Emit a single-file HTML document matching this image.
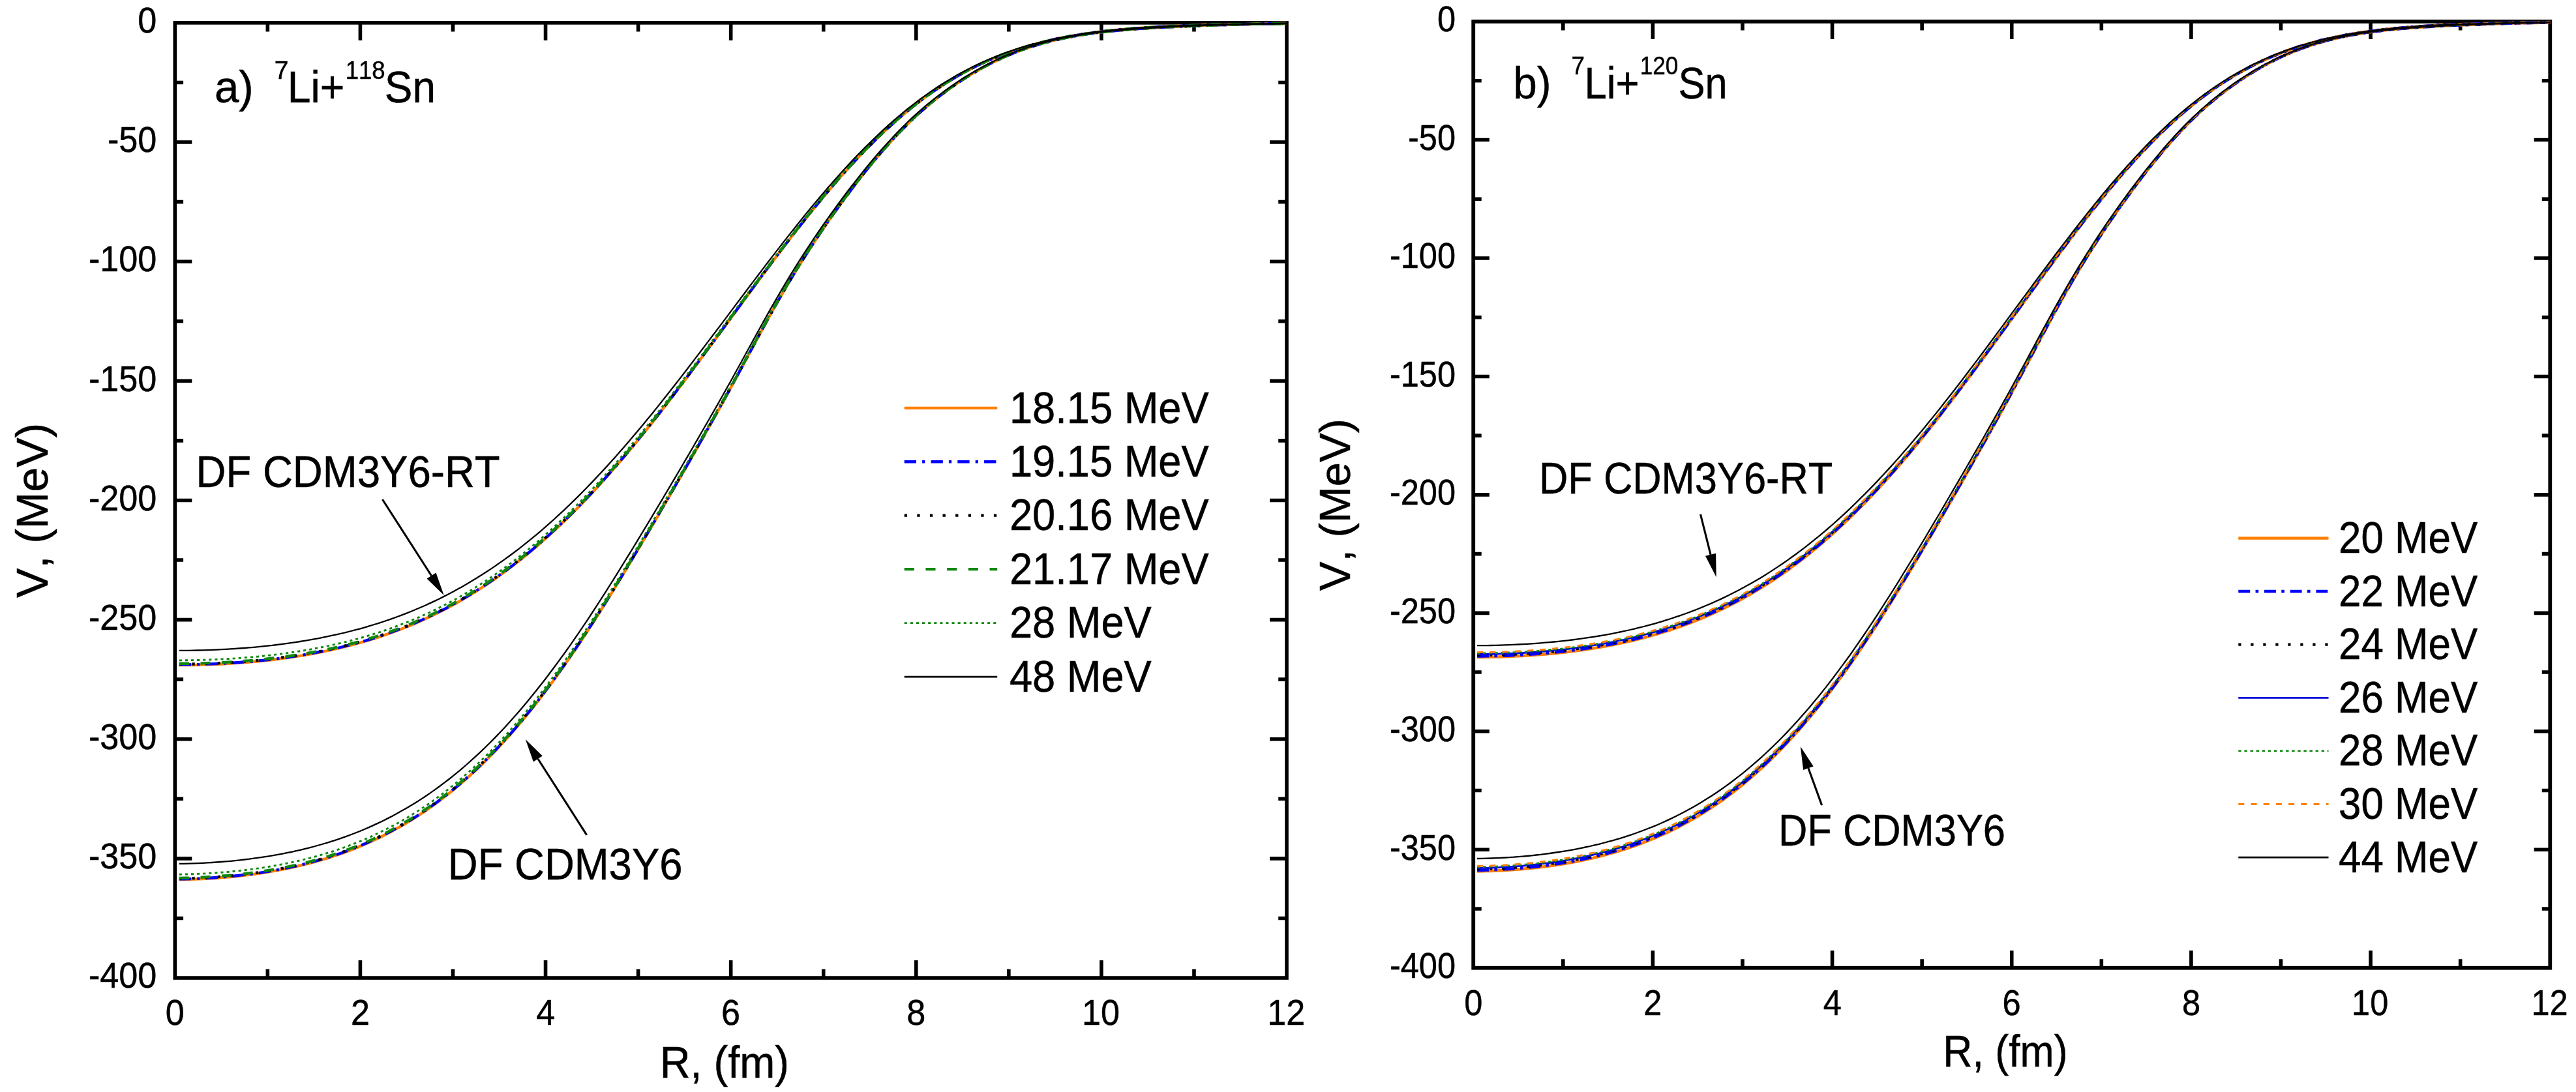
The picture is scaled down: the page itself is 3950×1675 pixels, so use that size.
<!DOCTYPE html>
<html lang="en"><head><meta charset="utf-8"><title>Double-folding potentials 7Li+118Sn, 7Li+120Sn</title>
<style>
html,body{margin:0;padding:0;background:#fff;}
body{width:3950px;height:1675px;overflow:hidden;}
svg{display:block;will-change:transform;}
text{font-family:"Liberation Sans",Arial,Helvetica,sans-serif;fill:#000;stroke:#000;stroke-width:0.5px;font-kerning:none;white-space:pre;}
</style></head><body>
<svg width="3950" height="1675" viewBox="0 0 3950 1675">
<rect width="3950" height="1675" fill="#fff"/>
<g id="pa">
<rect x="268.30" y="34.90" width="1704.72" height="1465.12" fill="none" stroke="#000" stroke-width="5.6"/>
<path d="M410.36,1500.02v-13.6M410.36,34.90v13.6M552.42,1500.02v-27M552.42,34.90v27M694.48,1500.02v-13.6M694.48,34.90v13.6M836.54,1500.02v-27M836.54,34.90v27M978.60,1500.02v-13.6M978.60,34.90v13.6M1120.66,1500.02v-27M1120.66,34.90v27M1262.72,1500.02v-13.6M1262.72,34.90v13.6M1404.78,1500.02v-27M1404.78,34.90v27M1546.84,1500.02v-13.6M1546.84,34.90v13.6M1688.90,1500.02v-27M1688.90,34.90v27M1830.96,1500.02v-13.6M1830.96,34.90v13.6M268.30,126.47h12.8M1973.02,126.47h-12.8M268.30,218.04h26M1973.02,218.04h-26M268.30,309.61h12.8M1973.02,309.61h-12.8M268.30,401.18h26M1973.02,401.18h-26M268.30,492.75h12.8M1973.02,492.75h-12.8M268.30,584.32h26M1973.02,584.32h-26M268.30,675.89h12.8M1973.02,675.89h-12.8M268.30,767.46h26M1973.02,767.46h-26M268.30,859.03h12.8M1973.02,859.03h-12.8M268.30,950.60h26M1973.02,950.60h-26M268.30,1042.17h12.8M1973.02,1042.17h-12.8M268.30,1133.74h26M1973.02,1133.74h-26M268.30,1225.31h12.8M1973.02,1225.31h-12.8M268.30,1316.88h26M1973.02,1316.88h-26M268.30,1408.45h12.8M1973.02,1408.45h-12.8" stroke="#000" stroke-width="5.6" fill="none"/>
<path d="M274.8,1020.2 L282.5,1020.2 L289.6,1020.1 L296.7,1020.0 L303.8,1019.8 L310.9,1019.6 L318.0,1019.4 L325.1,1019.1 L332.2,1018.8 L339.3,1018.5 L346.4,1018.1 L353.5,1017.7 L360.6,1017.2 L367.7,1016.7 L374.8,1016.2 L381.9,1015.6 L389.1,1014.9 L396.2,1014.3 L403.3,1013.5 L410.4,1012.8 L417.5,1012.0 L424.6,1011.1 L431.7,1010.2 L438.8,1009.2 L445.9,1008.2 L453.0,1007.1 L460.1,1006.0 L467.2,1004.8 L474.3,1003.6 L481.4,1002.3 L488.5,1000.9 L495.6,999.5 L502.7,998.0 L509.8,996.5 L516.9,994.9 L524.0,993.2 L531.1,991.5 L538.2,989.6 L545.3,987.7 L552.4,985.8 L559.5,983.7 L566.6,981.6 L573.7,979.4 L580.8,977.1 L587.9,974.7 L595.0,972.3 L602.1,969.7 L609.2,967.1 L616.3,964.4 L623.5,961.6 L630.6,958.7 L637.7,955.7 L644.8,952.5 L651.9,949.3 L659.0,946.0 L666.1,942.6 L673.2,939.1 L680.3,935.5 L687.4,931.8 L694.5,927.9 L701.6,924.0 L708.7,919.9 L715.8,915.7 L722.9,911.4 L730.0,907.0 L737.1,902.5 L744.2,897.8 L751.3,893.1 L758.4,888.2 L765.5,883.1 L772.6,878.0 L779.7,872.7 L786.8,867.3 L793.9,861.8 L801.0,856.2 L808.1,850.4 L815.2,844.5 L822.3,838.5 L829.4,832.3 L836.5,826.0 L843.6,819.6 L850.7,813.1 L857.8,806.4 L865.0,799.6 L872.1,792.7 L879.2,785.6 L886.3,778.5 L893.4,771.2 L900.5,763.8 L907.6,756.2 L914.7,748.6 L921.8,740.8 L928.9,732.9 L936.0,724.9 L943.1,716.8 L950.2,708.6 L957.3,700.3 L964.4,691.8 L971.5,683.3 L978.6,674.7 L985.7,666.0 L992.8,657.2 L999.9,648.3 L1007.0,639.3 L1014.1,630.2 L1021.2,621.1 L1028.3,611.9 L1035.4,602.6 L1042.5,593.3 L1049.6,583.9 L1056.7,574.4 L1063.8,564.9 L1070.9,555.4 L1078.0,545.8 L1085.1,536.2 L1092.2,526.6 L1099.4,516.9 L1106.5,507.2 L1113.6,497.6 L1120.7,487.9 L1127.8,478.2 L1134.9,468.5 L1142.0,458.8 L1149.1,449.2 L1156.2,439.5 L1163.3,429.9 L1170.4,420.4 L1177.5,410.8 L1184.6,401.4 L1191.7,391.9 L1198.8,382.6 L1205.9,373.3 L1213.0,364.0 L1220.1,354.9 L1227.2,345.8 L1234.3,336.8 L1241.4,328.0 L1248.5,319.2 L1255.6,310.5 L1262.7,301.9 L1269.8,293.5 L1276.9,285.1 L1284.0,276.9 L1291.1,268.8 L1298.2,260.9 L1305.3,253.1 L1312.4,245.4 L1319.5,237.8 L1326.6,230.5 L1333.8,223.2 L1340.9,216.2 L1348.0,209.2 L1355.1,202.5 L1362.2,195.9 L1369.3,189.4 L1376.4,183.1 L1383.5,177.0 L1390.6,171.1 L1397.7,165.3 L1404.8,159.7 L1411.9,154.2 L1419.0,148.9 L1426.1,143.8 L1433.2,138.9 L1440.3,134.1 L1447.4,129.4 L1454.5,125.0 L1461.6,120.6 L1468.7,116.5 L1475.8,112.5 L1482.9,108.6 L1490.0,104.9 L1497.1,101.4 L1504.2,98.0 L1511.3,94.7 L1518.4,91.6 L1525.5,88.6 L1532.6,85.7 L1539.7,83.0 L1546.8,80.3 L1553.9,77.8 L1561.0,75.5 L1568.1,73.2 L1575.3,71.0 L1582.4,69.0 L1589.5,67.0 L1596.6,65.2 L1603.7,63.4 L1610.8,61.8 L1617.9,60.2 L1625.0,58.7 L1632.1,57.3 L1639.2,55.9 L1646.3,54.7 L1653.4,53.5 L1660.5,52.4 L1667.6,51.3 L1674.7,50.3 L1681.8,49.4 L1688.9,48.5 L1696.0,47.7 L1703.1,46.9 L1710.2,46.1 L1717.3,45.4 L1724.4,44.8 L1731.5,44.2 L1738.6,43.6 L1745.7,43.1 L1752.8,42.6 L1759.9,42.1 L1767.0,41.7 L1774.1,41.3 L1781.2,40.9 L1788.3,40.5 L1795.4,40.2 L1802.5,39.9 L1809.7,39.6 L1816.8,39.3 L1823.9,39.1 L1831.0,38.8 L1838.1,38.6 L1845.2,38.4 L1852.3,38.2 L1859.4,38.0 L1866.5,37.8 L1873.6,37.7 L1880.7,37.5 L1887.8,37.4 L1894.9,37.3 L1902.0,37.2 L1909.1,37.1 L1916.2,37.0 L1923.3,36.9 L1930.4,36.8 L1937.5,36.7 L1944.6,36.6 L1951.7,36.6 L1958.8,36.5 L1965.9,36.4 L1973.0,36.4" fill="none" stroke="#ff7f00" stroke-width="4.3"/>
<path d="M274.8,1349.2 L282.5,1349.1 L289.6,1348.9 L296.7,1348.7 L303.8,1348.4 L310.9,1348.1 L318.0,1347.7 L325.1,1347.3 L332.2,1346.8 L339.3,1346.2 L346.4,1345.6 L353.5,1345.0 L360.6,1344.3 L367.7,1343.5 L374.8,1342.7 L381.9,1341.8 L389.1,1340.9 L396.2,1339.9 L403.3,1338.8 L410.4,1337.7 L417.5,1336.5 L424.6,1335.2 L431.7,1333.9 L438.8,1332.4 L445.9,1330.9 L453.0,1329.4 L460.1,1327.7 L467.2,1326.0 L474.3,1324.2 L481.4,1322.3 L488.5,1320.3 L495.6,1318.2 L502.7,1316.1 L509.8,1313.8 L516.9,1311.4 L524.0,1309.0 L531.1,1306.4 L538.2,1303.7 L545.3,1300.9 L552.4,1298.0 L559.5,1295.0 L566.6,1291.9 L573.7,1288.6 L580.8,1285.2 L587.9,1281.7 L595.0,1278.1 L602.1,1274.3 L609.2,1270.4 L616.3,1266.4 L623.5,1262.2 L630.6,1257.9 L637.7,1253.4 L644.8,1248.8 L651.9,1244.1 L659.0,1239.1 L666.1,1234.1 L673.2,1228.8 L680.3,1223.4 L687.4,1217.9 L694.5,1212.1 L701.6,1206.2 L708.7,1200.2 L715.8,1193.9 L722.9,1187.5 L730.0,1180.9 L737.1,1174.1 L744.2,1167.2 L751.3,1160.0 L758.4,1152.7 L765.5,1145.2 L772.6,1137.6 L779.7,1129.7 L786.8,1121.6 L793.9,1113.4 L801.0,1105.0 L808.1,1096.4 L815.2,1087.6 L822.3,1078.6 L829.4,1069.4 L836.5,1060.1 L843.6,1050.6 L850.7,1040.9 L857.8,1031.1 L865.0,1021.0 L872.1,1010.8 L879.2,1000.5 L886.3,990.0 L893.4,979.3 L900.5,968.5 L907.6,957.6 L914.7,946.5 L921.8,935.3 L928.9,924.0 L936.0,912.6 L943.1,901.1 L950.2,889.5 L957.3,877.8 L964.4,866.1 L971.5,854.2 L978.6,842.4 L985.7,830.4 L992.8,818.4 L999.9,806.4 L1007.0,794.3 L1014.1,782.1 L1021.2,770.0 L1028.3,757.8 L1035.4,745.5 L1042.5,733.2 L1049.6,720.9 L1056.7,708.5 L1063.8,696.1 L1070.9,683.6 L1078.0,671.1 L1085.1,658.5 L1092.2,645.9 L1099.4,633.2 L1106.5,620.4 L1113.6,607.5 L1120.7,594.5 L1127.8,581.5 L1134.9,568.3 L1142.0,555.1 L1149.1,541.9 L1156.2,528.7 L1163.3,515.6 L1170.4,502.5 L1177.5,489.5 L1184.6,476.8 L1191.7,464.2 L1198.8,451.8 L1205.9,439.6 L1213.0,427.7 L1220.1,416.0 L1227.2,404.5 L1234.3,393.2 L1241.4,382.2 L1248.5,371.3 L1255.6,360.7 L1262.7,350.2 L1269.8,339.9 L1276.9,329.8 L1284.0,319.9 L1291.1,310.1 L1298.2,300.4 L1305.3,291.0 L1312.4,281.6 L1319.5,272.5 L1326.6,263.5 L1333.8,254.7 L1340.9,246.0 L1348.0,237.6 L1355.1,229.3 L1362.2,221.3 L1369.3,213.5 L1376.4,205.9 L1383.5,198.5 L1390.6,191.4 L1397.7,184.5 L1404.8,177.8 L1411.9,171.3 L1419.0,165.1 L1426.1,159.1 L1433.2,153.3 L1440.3,147.7 L1447.4,142.3 L1454.5,137.1 L1461.6,132.0 L1468.7,127.1 L1475.8,122.4 L1482.9,117.9 L1490.0,113.5 L1497.1,109.3 L1504.2,105.3 L1511.3,101.4 L1518.4,97.7 L1525.5,94.2 L1532.6,90.8 L1539.7,87.5 L1546.8,84.5 L1553.9,81.6 L1561.0,78.8 L1568.1,76.2 L1575.3,73.7 L1582.4,71.3 L1589.5,69.1 L1596.6,67.0 L1603.7,65.1 L1610.8,63.2 L1617.9,61.5 L1625.0,59.9 L1632.1,58.4 L1639.2,57.0 L1646.3,55.6 L1653.4,54.4 L1660.5,53.2 L1667.6,52.2 L1674.7,51.2 L1681.8,50.2 L1688.9,49.3 L1696.0,48.5 L1703.1,47.8 L1710.2,47.1 L1717.3,46.4 L1724.4,45.8 L1731.5,45.2 L1738.6,44.6 L1745.7,44.1 L1752.8,43.6 L1759.9,43.2 L1767.0,42.8 L1774.1,42.4 L1781.2,42.0 L1788.3,41.6 L1795.4,41.3 L1802.5,40.9 L1809.7,40.6 L1816.8,40.3 L1823.9,40.0 L1831.0,39.7 L1838.1,39.5 L1845.2,39.2 L1852.3,38.9 L1859.4,38.7 L1866.5,38.4 L1873.6,38.2 L1880.7,38.0 L1887.8,37.7 L1894.9,37.5 L1902.0,37.3 L1909.1,37.1 L1916.2,36.9 L1923.3,36.7 L1930.4,36.5 L1937.5,36.3 L1944.6,36.2 L1951.7,36.0 L1958.8,35.8 L1965.9,35.7 L1973.0,35.6" fill="none" stroke="#ff7f00" stroke-width="4.3"/>
<path d="M274.8,1019.5 L282.5,1019.4 L289.6,1019.3 L296.7,1019.2 L303.8,1019.1 L310.9,1018.9 L318.0,1018.6 L325.1,1018.4 L332.2,1018.1 L339.3,1017.7 L346.4,1017.4 L353.5,1016.9 L360.6,1016.5 L367.7,1016.0 L374.8,1015.4 L381.9,1014.8 L389.1,1014.2 L396.2,1013.5 L403.3,1012.8 L410.4,1012.0 L417.5,1011.2 L424.6,1010.4 L431.7,1009.4 L438.8,1008.5 L445.9,1007.5 L453.0,1006.4 L460.1,1005.3 L467.2,1004.1 L474.3,1002.9 L481.4,1001.6 L488.5,1000.2 L495.6,998.8 L502.7,997.3 L509.8,995.8 L516.9,994.2 L524.0,992.5 L531.1,990.7 L538.2,988.9 L545.3,987.0 L552.4,985.0 L559.5,983.0 L566.6,980.9 L573.7,978.7 L580.8,976.4 L587.9,974.0 L595.0,971.6 L602.1,969.0 L609.2,966.4 L616.3,963.7 L623.5,960.9 L630.6,958.0 L637.7,955.0 L644.8,951.9 L651.9,948.7 L659.0,945.3 L666.1,941.9 L673.2,938.4 L680.3,934.8 L687.4,931.1 L694.5,927.2 L701.6,923.3 L708.7,919.2 L715.8,915.1 L722.9,910.8 L730.0,906.4 L737.1,901.8 L744.2,897.2 L751.3,892.4 L758.4,887.5 L765.5,882.5 L772.6,877.4 L779.7,872.1 L786.8,866.7 L793.9,861.2 L801.0,855.5 L808.1,849.8 L815.2,843.9 L822.3,837.9 L829.4,831.7 L836.5,825.4 L843.6,819.0 L850.7,812.5 L857.8,805.8 L865.0,799.0 L872.1,792.1 L879.2,785.1 L886.3,777.9 L893.4,770.6 L900.5,763.2 L907.6,755.7 L914.7,748.0 L921.8,740.3 L928.9,732.4 L936.0,724.4 L943.1,716.3 L950.2,708.1 L957.3,699.8 L964.4,691.3 L971.5,682.8 L978.6,674.2 L985.7,665.5 L992.8,656.7 L999.9,647.8 L1007.0,638.8 L1014.1,629.8 L1021.2,620.6 L1028.3,611.4 L1035.4,602.2 L1042.5,592.8 L1049.6,583.5 L1056.7,574.0 L1063.8,564.5 L1070.9,555.0 L1078.0,545.4 L1085.1,535.8 L1092.2,526.2 L1099.4,516.6 L1106.5,506.9 L1113.6,497.2 L1120.7,487.5 L1127.8,477.8 L1134.9,468.2 L1142.0,458.5 L1149.1,448.8 L1156.2,439.2 L1163.3,429.6 L1170.4,420.1 L1177.5,410.6 L1184.6,401.1 L1191.7,391.7 L1198.8,382.3 L1205.9,373.0 L1213.0,363.8 L1220.1,354.6 L1227.2,345.6 L1234.3,336.6 L1241.4,327.7 L1248.5,319.0 L1255.6,310.3 L1262.7,301.7 L1269.8,293.3 L1276.9,284.9 L1284.0,276.7 L1291.1,268.6 L1298.2,260.7 L1305.3,252.9 L1312.4,245.2 L1319.5,237.7 L1326.6,230.3 L1333.8,223.1 L1340.9,216.0 L1348.0,209.1 L1355.1,202.3 L1362.2,195.7 L1369.3,189.3 L1376.4,183.0 L1383.5,176.9 L1390.6,171.0 L1397.7,165.2 L1404.8,159.6 L1411.9,154.1 L1419.0,148.9 L1426.1,143.7 L1433.2,138.8 L1440.3,134.0 L1447.4,129.4 L1454.5,124.9 L1461.6,120.6 L1468.7,116.4 L1475.8,112.4 L1482.9,108.6 L1490.0,104.9 L1497.1,101.3 L1504.2,97.9 L1511.3,94.7 L1518.4,91.5 L1525.5,88.5 L1532.6,85.7 L1539.7,82.9 L1546.8,80.3 L1553.9,77.8 L1561.0,75.4 L1568.1,73.2 L1575.3,71.0 L1582.4,69.0 L1589.5,67.0 L1596.6,65.2 L1603.7,63.4 L1610.8,61.7 L1617.9,60.2 L1625.0,58.7 L1632.1,57.3 L1639.2,55.9 L1646.3,54.7 L1653.4,53.5 L1660.5,52.4 L1667.6,51.3 L1674.7,50.3 L1681.8,49.4 L1688.9,48.5 L1696.0,47.6 L1703.1,46.9 L1710.2,46.1 L1717.3,45.4 L1724.4,44.8 L1731.5,44.2 L1738.6,43.6 L1745.7,43.1 L1752.8,42.6 L1759.9,42.1 L1767.0,41.7 L1774.1,41.3 L1781.2,40.9 L1788.3,40.5 L1795.4,40.2 L1802.5,39.9 L1809.7,39.6 L1816.8,39.3 L1823.9,39.1 L1831.0,38.8 L1838.1,38.6 L1845.2,38.4 L1852.3,38.2 L1859.4,38.0 L1866.5,37.8 L1873.6,37.7 L1880.7,37.5 L1887.8,37.4 L1894.9,37.3 L1902.0,37.2 L1909.1,37.1 L1916.2,37.0 L1923.3,36.9 L1930.4,36.8 L1937.5,36.7 L1944.6,36.6 L1951.7,36.6 L1958.8,36.5 L1965.9,36.4 L1973.0,36.4" fill="none" stroke="#0000ff" stroke-width="4.3" stroke-dasharray="18.3 9.1 4.2 9.2"/>
<path d="M274.8,1348.4 L282.5,1348.3 L289.6,1348.1 L296.7,1347.9 L303.8,1347.6 L310.9,1347.3 L318.0,1346.9 L325.1,1346.5 L332.2,1346.0 L339.3,1345.4 L346.4,1344.8 L353.5,1344.2 L360.6,1343.5 L367.7,1342.7 L374.8,1341.9 L381.9,1341.0 L389.1,1340.1 L396.2,1339.1 L403.3,1338.0 L410.4,1336.9 L417.5,1335.7 L424.6,1334.4 L431.7,1333.0 L438.8,1331.6 L445.9,1330.1 L453.0,1328.6 L460.1,1326.9 L467.2,1325.2 L474.3,1323.4 L481.4,1321.5 L488.5,1319.5 L495.6,1317.4 L502.7,1315.3 L509.8,1313.0 L516.9,1310.6 L524.0,1308.2 L531.1,1305.6 L538.2,1302.9 L545.3,1300.1 L552.4,1297.2 L559.5,1294.2 L566.6,1291.1 L573.7,1287.8 L580.8,1284.5 L587.9,1281.0 L595.0,1277.3 L602.1,1273.6 L609.2,1269.7 L616.3,1265.6 L623.5,1261.5 L630.6,1257.2 L637.7,1252.7 L644.8,1248.1 L651.9,1243.3 L659.0,1238.4 L666.1,1233.3 L673.2,1228.1 L680.3,1222.7 L687.4,1217.1 L694.5,1211.4 L701.6,1205.5 L708.7,1199.4 L715.8,1193.2 L722.9,1186.8 L730.0,1180.2 L737.1,1173.4 L744.2,1166.5 L751.3,1159.3 L758.4,1152.0 L765.5,1144.5 L772.6,1136.9 L779.7,1129.0 L786.8,1121.0 L793.9,1112.7 L801.0,1104.3 L808.1,1095.7 L815.2,1086.9 L822.3,1078.0 L829.4,1068.8 L836.5,1059.5 L843.6,1050.0 L850.7,1040.3 L857.8,1030.4 L865.0,1020.4 L872.1,1010.2 L879.2,999.9 L886.3,989.4 L893.4,978.7 L900.5,967.9 L907.6,957.0 L914.7,946.0 L921.8,934.8 L928.9,923.5 L936.0,912.1 L943.1,900.6 L950.2,889.0 L957.3,877.3 L964.4,865.6 L971.5,853.7 L978.6,841.9 L985.7,829.9 L992.8,817.9 L999.9,805.9 L1007.0,793.8 L1014.1,781.7 L1021.2,769.5 L1028.3,757.3 L1035.4,745.1 L1042.5,732.8 L1049.6,720.5 L1056.7,708.1 L1063.8,695.7 L1070.9,683.2 L1078.0,670.7 L1085.1,658.1 L1092.2,645.5 L1099.4,632.8 L1106.5,620.0 L1113.6,607.1 L1120.7,594.2 L1127.8,581.1 L1134.9,568.0 L1142.0,554.8 L1149.1,541.6 L1156.2,528.4 L1163.3,515.3 L1170.4,502.2 L1177.5,489.3 L1184.6,476.5 L1191.7,463.9 L1198.8,451.5 L1205.9,439.4 L1213.0,427.5 L1220.1,415.7 L1227.2,404.3 L1234.3,393.0 L1241.4,382.0 L1248.5,371.1 L1255.6,360.5 L1262.7,350.0 L1269.8,339.7 L1276.9,329.6 L1284.0,319.7 L1291.1,309.9 L1298.2,300.3 L1305.3,290.8 L1312.4,281.5 L1319.5,272.3 L1326.6,263.3 L1333.8,254.5 L1340.9,245.9 L1348.0,237.5 L1355.1,229.2 L1362.2,221.2 L1369.3,213.4 L1376.4,205.8 L1383.5,198.4 L1390.6,191.3 L1397.7,184.4 L1404.8,177.7 L1411.9,171.3 L1419.0,165.0 L1426.1,159.0 L1433.2,153.2 L1440.3,147.6 L1447.4,142.2 L1454.5,137.0 L1461.6,132.0 L1468.7,127.1 L1475.8,122.4 L1482.9,117.9 L1490.0,113.5 L1497.1,109.3 L1504.2,105.3 L1511.3,101.4 L1518.4,97.7 L1525.5,94.1 L1532.6,90.7 L1539.7,87.5 L1546.8,84.4 L1553.9,81.5 L1561.0,78.8 L1568.1,76.1 L1575.3,73.6 L1582.4,71.3 L1589.5,69.1 L1596.6,67.0 L1603.7,65.1 L1610.8,63.2 L1617.9,61.5 L1625.0,59.9 L1632.1,58.4 L1639.2,57.0 L1646.3,55.6 L1653.4,54.4 L1660.5,53.2 L1667.6,52.2 L1674.7,51.2 L1681.8,50.2 L1688.9,49.3 L1696.0,48.5 L1703.1,47.8 L1710.2,47.0 L1717.3,46.4 L1724.4,45.8 L1731.5,45.2 L1738.6,44.6 L1745.7,44.1 L1752.8,43.6 L1759.9,43.2 L1767.0,42.8 L1774.1,42.3 L1781.2,42.0 L1788.3,41.6 L1795.4,41.3 L1802.5,40.9 L1809.7,40.6 L1816.8,40.3 L1823.9,40.0 L1831.0,39.7 L1838.1,39.5 L1845.2,39.2 L1852.3,38.9 L1859.4,38.7 L1866.5,38.4 L1873.6,38.2 L1880.7,38.0 L1887.8,37.7 L1894.9,37.5 L1902.0,37.3 L1909.1,37.1 L1916.2,36.9 L1923.3,36.7 L1930.4,36.5 L1937.5,36.3 L1944.6,36.2 L1951.7,36.0 L1958.8,35.8 L1965.9,35.7 L1973.0,35.6" fill="none" stroke="#0000ff" stroke-width="4.3" stroke-dasharray="18.3 9.1 4.2 9.2"/>
<path d="M274.8,1018.7 L282.5,1018.7 L289.6,1018.6 L296.7,1018.5 L303.8,1018.3 L310.9,1018.1 L318.0,1017.9 L325.1,1017.6 L332.2,1017.3 L339.3,1017.0 L346.4,1016.6 L353.5,1016.2 L360.6,1015.7 L367.7,1015.2 L374.8,1014.7 L381.9,1014.1 L389.1,1013.4 L396.2,1012.8 L403.3,1012.1 L410.4,1011.3 L417.5,1010.5 L424.6,1009.6 L431.7,1008.7 L438.8,1007.7 L445.9,1006.7 L453.0,1005.7 L460.1,1004.5 L467.2,1003.4 L474.3,1002.1 L481.4,1000.8 L488.5,999.5 L495.6,998.1 L502.7,996.6 L509.8,995.0 L516.9,993.4 L524.0,991.7 L531.1,990.0 L538.2,988.2 L545.3,986.3 L552.4,984.3 L559.5,982.3 L566.6,980.2 L573.7,978.0 L580.8,975.7 L587.9,973.3 L595.0,970.9 L602.1,968.3 L609.2,965.7 L616.3,963.0 L623.5,960.2 L630.6,957.3 L637.7,954.3 L644.8,951.2 L651.9,948.0 L659.0,944.7 L666.1,941.2 L673.2,937.7 L680.3,934.1 L687.4,930.4 L694.5,926.6 L701.6,922.6 L708.7,918.6 L715.8,914.4 L722.9,910.1 L730.0,905.7 L737.1,901.2 L744.2,896.5 L751.3,891.7 L758.4,886.9 L765.5,881.9 L772.6,876.7 L779.7,871.5 L786.8,866.1 L793.9,860.6 L801.0,854.9 L808.1,849.2 L815.2,843.3 L822.3,837.2 L829.4,831.1 L836.5,824.8 L843.6,818.4 L850.7,811.9 L857.8,805.2 L865.0,798.4 L872.1,791.5 L879.2,784.5 L886.3,777.3 L893.4,770.1 L900.5,762.6 L907.6,755.1 L914.7,747.5 L921.8,739.7 L928.9,731.8 L936.0,723.9 L943.1,715.8 L950.2,707.6 L957.3,699.2 L964.4,690.8 L971.5,682.3 L978.6,673.7 L985.7,665.0 L992.8,656.2 L999.9,647.3 L1007.0,638.4 L1014.1,629.3 L1021.2,620.2 L1028.3,611.0 L1035.4,601.7 L1042.5,592.4 L1049.6,583.0 L1056.7,573.6 L1063.8,564.1 L1070.9,554.6 L1078.0,545.0 L1085.1,535.5 L1092.2,525.8 L1099.4,516.2 L1106.5,506.5 L1113.6,496.9 L1120.7,487.2 L1127.8,477.5 L1134.9,467.8 L1142.0,458.2 L1149.1,448.5 L1156.2,438.9 L1163.3,429.3 L1170.4,419.8 L1177.5,410.3 L1184.6,400.8 L1191.7,391.4 L1198.8,382.0 L1205.9,372.8 L1213.0,363.5 L1220.1,354.4 L1227.2,345.4 L1234.3,336.4 L1241.4,327.5 L1248.5,318.7 L1255.6,310.1 L1262.7,301.5 L1269.8,293.1 L1276.9,284.7 L1284.0,276.5 L1291.1,268.5 L1298.2,260.5 L1305.3,252.7 L1312.4,245.1 L1319.5,237.5 L1326.6,230.2 L1333.8,222.9 L1340.9,215.9 L1348.0,209.0 L1355.1,202.2 L1362.2,195.6 L1369.3,189.2 L1376.4,182.9 L1383.5,176.8 L1390.6,170.9 L1397.7,165.1 L1404.8,159.5 L1411.9,154.0 L1419.0,148.8 L1426.1,143.7 L1433.2,138.7 L1440.3,133.9 L1447.4,129.3 L1454.5,124.8 L1461.6,120.5 L1468.7,116.4 L1475.8,112.4 L1482.9,108.5 L1490.0,104.8 L1497.1,101.3 L1504.2,97.9 L1511.3,94.6 L1518.4,91.5 L1525.5,88.5 L1532.6,85.6 L1539.7,82.9 L1546.8,80.3 L1553.9,77.8 L1561.0,75.4 L1568.1,73.1 L1575.3,71.0 L1582.4,68.9 L1589.5,67.0 L1596.6,65.1 L1603.7,63.4 L1610.8,61.7 L1617.9,60.1 L1625.0,58.7 L1632.1,57.2 L1639.2,55.9 L1646.3,54.7 L1653.4,53.5 L1660.5,52.3 L1667.6,51.3 L1674.7,50.3 L1681.8,49.3 L1688.9,48.5 L1696.0,47.6 L1703.1,46.9 L1710.2,46.1 L1717.3,45.4 L1724.4,44.8 L1731.5,44.2 L1738.6,43.6 L1745.7,43.1 L1752.8,42.6 L1759.9,42.1 L1767.0,41.7 L1774.1,41.3 L1781.2,40.9 L1788.3,40.5 L1795.4,40.2 L1802.5,39.9 L1809.7,39.6 L1816.8,39.3 L1823.9,39.0 L1831.0,38.8 L1838.1,38.6 L1845.2,38.4 L1852.3,38.2 L1859.4,38.0 L1866.5,37.8 L1873.6,37.7 L1880.7,37.5 L1887.8,37.4 L1894.9,37.3 L1902.0,37.2 L1909.1,37.1 L1916.2,37.0 L1923.3,36.9 L1930.4,36.8 L1937.5,36.7 L1944.6,36.6 L1951.7,36.6 L1958.8,36.5 L1965.9,36.4 L1973.0,36.4" fill="none" stroke="#000" stroke-width="4.3" stroke-dasharray="4.3 15.3"/>
<path d="M274.8,1347.6 L282.5,1347.5 L289.6,1347.3 L296.7,1347.1 L303.8,1346.8 L310.9,1346.5 L318.0,1346.1 L325.1,1345.6 L332.2,1345.2 L339.3,1344.6 L346.4,1344.0 L353.5,1343.4 L360.6,1342.7 L367.7,1341.9 L374.8,1341.1 L381.9,1340.2 L389.1,1339.3 L396.2,1338.3 L403.3,1337.2 L410.4,1336.0 L417.5,1334.8 L424.6,1333.6 L431.7,1332.2 L438.8,1330.8 L445.9,1329.3 L453.0,1327.8 L460.1,1326.1 L467.2,1324.4 L474.3,1322.6 L481.4,1320.7 L488.5,1318.7 L495.6,1316.6 L502.7,1314.5 L509.8,1312.2 L516.9,1309.8 L524.0,1307.4 L531.1,1304.8 L538.2,1302.1 L545.3,1299.3 L552.4,1296.4 L559.5,1293.4 L566.6,1290.3 L573.7,1287.1 L580.8,1283.7 L587.9,1280.2 L595.0,1276.6 L602.1,1272.8 L609.2,1268.9 L616.3,1264.9 L623.5,1260.7 L630.6,1256.4 L637.7,1251.9 L644.8,1247.3 L651.9,1242.6 L659.0,1237.6 L666.1,1232.6 L673.2,1227.3 L680.3,1221.9 L687.4,1216.4 L694.5,1210.7 L701.6,1204.8 L708.7,1198.7 L715.8,1192.5 L722.9,1186.1 L730.0,1179.5 L737.1,1172.7 L744.2,1165.8 L751.3,1158.6 L758.4,1151.3 L765.5,1143.8 L772.6,1136.2 L779.7,1128.3 L786.8,1120.3 L793.9,1112.1 L801.0,1103.6 L808.1,1095.0 L815.2,1086.3 L822.3,1077.3 L829.4,1068.2 L836.5,1058.8 L843.6,1049.3 L850.7,1039.7 L857.8,1029.8 L865.0,1019.8 L872.1,1009.6 L879.2,999.3 L886.3,988.8 L893.4,978.1 L900.5,967.4 L907.6,956.4 L914.7,945.4 L921.8,934.2 L928.9,922.9 L936.0,911.5 L943.1,900.0 L950.2,888.4 L957.3,876.8 L964.4,865.0 L971.5,853.2 L978.6,841.3 L985.7,829.4 L992.8,817.4 L999.9,805.4 L1007.0,793.3 L1014.1,781.2 L1021.2,769.0 L1028.3,756.9 L1035.4,744.6 L1042.5,732.3 L1049.6,720.0 L1056.7,707.7 L1063.8,695.3 L1070.9,682.8 L1078.0,670.3 L1085.1,657.7 L1092.2,645.1 L1099.4,632.4 L1106.5,619.6 L1113.6,606.8 L1120.7,593.8 L1127.8,580.8 L1134.9,567.7 L1142.0,554.5 L1149.1,541.3 L1156.2,528.1 L1163.3,515.0 L1170.4,501.9 L1177.5,489.0 L1184.6,476.2 L1191.7,463.6 L1198.8,451.3 L1205.9,439.1 L1213.0,427.2 L1220.1,415.5 L1227.2,404.0 L1234.3,392.8 L1241.4,381.7 L1248.5,370.9 L1255.6,360.3 L1262.7,349.8 L1269.8,339.5 L1276.9,329.4 L1284.0,319.5 L1291.1,309.7 L1298.2,300.1 L1305.3,290.6 L1312.4,281.3 L1319.5,272.2 L1326.6,263.2 L1333.8,254.4 L1340.9,245.8 L1348.0,237.3 L1355.1,229.1 L1362.2,221.1 L1369.3,213.3 L1376.4,205.7 L1383.5,198.3 L1390.6,191.2 L1397.7,184.3 L1404.8,177.6 L1411.9,171.2 L1419.0,165.0 L1426.1,159.0 L1433.2,153.2 L1440.3,147.6 L1447.4,142.2 L1454.5,136.9 L1461.6,131.9 L1468.7,127.0 L1475.8,122.3 L1482.9,117.8 L1490.0,113.4 L1497.1,109.2 L1504.2,105.2 L1511.3,101.3 L1518.4,97.6 L1525.5,94.1 L1532.6,90.7 L1539.7,87.5 L1546.8,84.4 L1553.9,81.5 L1561.0,78.7 L1568.1,76.1 L1575.3,73.6 L1582.4,71.3 L1589.5,69.1 L1596.6,67.0 L1603.7,65.0 L1610.8,63.2 L1617.9,61.5 L1625.0,59.9 L1632.1,58.4 L1639.2,56.9 L1646.3,55.6 L1653.4,54.4 L1660.5,53.2 L1667.6,52.1 L1674.7,51.1 L1681.8,50.2 L1688.9,49.3 L1696.0,48.5 L1703.1,47.7 L1710.2,47.0 L1717.3,46.4 L1724.4,45.7 L1731.5,45.2 L1738.6,44.6 L1745.7,44.1 L1752.8,43.6 L1759.9,43.2 L1767.0,42.7 L1774.1,42.3 L1781.2,42.0 L1788.3,41.6 L1795.4,41.3 L1802.5,40.9 L1809.7,40.6 L1816.8,40.3 L1823.9,40.0 L1831.0,39.7 L1838.1,39.5 L1845.2,39.2 L1852.3,38.9 L1859.4,38.7 L1866.5,38.4 L1873.6,38.2 L1880.7,38.0 L1887.8,37.7 L1894.9,37.5 L1902.0,37.3 L1909.1,37.1 L1916.2,36.9 L1923.3,36.7 L1930.4,36.5 L1937.5,36.3 L1944.6,36.2 L1951.7,36.0 L1958.8,35.8 L1965.9,35.7 L1973.0,35.6" fill="none" stroke="#000" stroke-width="4.3" stroke-dasharray="4.3 15.3"/>
<path d="M274.8,1018.0 L282.5,1017.9 L289.6,1017.8 L296.7,1017.7 L303.8,1017.6 L310.9,1017.4 L318.0,1017.1 L325.1,1016.9 L332.2,1016.6 L339.3,1016.2 L346.4,1015.8 L353.5,1015.4 L360.6,1015.0 L367.7,1014.5 L374.8,1013.9 L381.9,1013.3 L389.1,1012.7 L396.2,1012.0 L403.3,1011.3 L410.4,1010.5 L417.5,1009.7 L424.6,1008.9 L431.7,1008.0 L438.8,1007.0 L445.9,1006.0 L453.0,1004.9 L460.1,1003.8 L467.2,1002.6 L474.3,1001.4 L481.4,1000.1 L488.5,998.7 L495.6,997.3 L502.7,995.8 L509.8,994.3 L516.9,992.7 L524.0,991.0 L531.1,989.3 L538.2,987.4 L545.3,985.6 L552.4,983.6 L559.5,981.6 L566.6,979.4 L573.7,977.2 L580.8,975.0 L587.9,972.6 L595.0,970.1 L602.1,967.6 L609.2,965.0 L616.3,962.3 L623.5,959.4 L630.6,956.5 L637.7,953.5 L644.8,950.4 L651.9,947.3 L659.0,944.0 L666.1,940.6 L673.2,937.0 L680.3,933.4 L687.4,929.7 L694.5,925.9 L701.6,921.9 L708.7,917.9 L715.8,913.7 L722.9,909.4 L730.0,905.0 L737.1,900.5 L744.2,895.9 L751.3,891.1 L758.4,886.2 L765.5,881.2 L772.6,876.1 L779.7,870.8 L786.8,865.4 L793.9,859.9 L801.0,854.3 L808.1,848.5 L815.2,842.6 L822.3,836.6 L829.4,830.5 L836.5,824.2 L843.6,817.8 L850.7,811.3 L857.8,804.6 L865.0,797.9 L872.1,790.9 L879.2,783.9 L886.3,776.8 L893.4,769.5 L900.5,762.1 L907.6,754.6 L914.7,746.9 L921.8,739.2 L928.9,731.3 L936.0,723.3 L943.1,715.2 L950.2,707.0 L957.3,698.7 L964.4,690.3 L971.5,681.8 L978.6,673.2 L985.7,664.5 L992.8,655.7 L999.9,646.8 L1007.0,637.9 L1014.1,628.9 L1021.2,619.7 L1028.3,610.6 L1035.4,601.3 L1042.5,592.0 L1049.6,582.6 L1056.7,573.2 L1063.8,563.7 L1070.9,554.2 L1078.0,544.7 L1085.1,535.1 L1092.2,525.5 L1099.4,515.8 L1106.5,506.2 L1113.6,496.5 L1120.7,486.8 L1127.8,477.2 L1134.9,467.5 L1142.0,457.8 L1149.1,448.2 L1156.2,438.6 L1163.3,429.0 L1170.4,419.5 L1177.5,410.0 L1184.6,400.5 L1191.7,391.1 L1198.8,381.8 L1205.9,372.5 L1213.0,363.3 L1220.1,354.2 L1227.2,345.1 L1234.3,336.2 L1241.4,327.3 L1248.5,318.5 L1255.6,309.9 L1262.7,301.3 L1269.8,292.9 L1276.9,284.5 L1284.0,276.4 L1291.1,268.3 L1298.2,260.4 L1305.3,252.6 L1312.4,244.9 L1319.5,237.4 L1326.6,230.0 L1333.8,222.8 L1340.9,215.7 L1348.0,208.8 L1355.1,202.1 L1362.2,195.5 L1369.3,189.1 L1376.4,182.8 L1383.5,176.7 L1390.6,170.8 L1397.7,165.0 L1404.8,159.4 L1411.9,154.0 L1419.0,148.7 L1426.1,143.6 L1433.2,138.6 L1440.3,133.8 L1447.4,129.2 L1454.5,124.8 L1461.6,120.5 L1468.7,116.3 L1475.8,112.3 L1482.9,108.5 L1490.0,104.8 L1497.1,101.2 L1504.2,97.8 L1511.3,94.6 L1518.4,91.4 L1525.5,88.4 L1532.6,85.6 L1539.7,82.8 L1546.8,80.2 L1553.9,77.7 L1561.0,75.4 L1568.1,73.1 L1575.3,71.0 L1582.4,68.9 L1589.5,67.0 L1596.6,65.1 L1603.7,63.4 L1610.8,61.7 L1617.9,60.1 L1625.0,58.6 L1632.1,57.2 L1639.2,55.9 L1646.3,54.6 L1653.4,53.5 L1660.5,52.3 L1667.6,51.3 L1674.7,50.3 L1681.8,49.3 L1688.9,48.5 L1696.0,47.6 L1703.1,46.8 L1710.2,46.1 L1717.3,45.4 L1724.4,44.8 L1731.5,44.2 L1738.6,43.6 L1745.7,43.1 L1752.8,42.6 L1759.9,42.1 L1767.0,41.7 L1774.1,41.3 L1781.2,40.9 L1788.3,40.5 L1795.4,40.2 L1802.5,39.9 L1809.7,39.6 L1816.8,39.3 L1823.9,39.0 L1831.0,38.8 L1838.1,38.6 L1845.2,38.4 L1852.3,38.2 L1859.4,38.0 L1866.5,37.8 L1873.6,37.7 L1880.7,37.5 L1887.8,37.4 L1894.9,37.3 L1902.0,37.2 L1909.1,37.1 L1916.2,37.0 L1923.3,36.9 L1930.4,36.8 L1937.5,36.7 L1944.6,36.6 L1951.7,36.6 L1958.8,36.5 L1965.9,36.4 L1973.0,36.4" fill="none" stroke="#0f870f" stroke-width="4.3" stroke-dasharray="15.1 17.6"/>
<path d="M274.8,1346.8 L282.5,1346.6 L289.6,1346.5 L296.7,1346.2 L303.8,1346.0 L310.9,1345.6 L318.0,1345.2 L325.1,1344.8 L332.2,1344.3 L339.3,1343.8 L346.4,1343.2 L353.5,1342.5 L360.6,1341.8 L367.7,1341.1 L374.8,1340.3 L381.9,1339.4 L389.1,1338.4 L396.2,1337.4 L403.3,1336.4 L410.4,1335.2 L417.5,1334.0 L424.6,1332.8 L431.7,1331.4 L438.8,1330.0 L445.9,1328.5 L453.0,1327.0 L460.1,1325.3 L467.2,1323.6 L474.3,1321.8 L481.4,1319.9 L488.5,1317.9 L495.6,1315.8 L502.7,1313.7 L509.8,1311.4 L516.9,1309.0 L524.0,1306.6 L531.1,1304.0 L538.2,1301.3 L545.3,1298.5 L552.4,1295.7 L559.5,1292.6 L566.6,1289.5 L573.7,1286.3 L580.8,1282.9 L587.9,1279.4 L595.0,1275.8 L602.1,1272.0 L609.2,1268.1 L616.3,1264.1 L623.5,1259.9 L630.6,1255.6 L637.7,1251.2 L644.8,1246.6 L651.9,1241.8 L659.0,1236.9 L666.1,1231.8 L673.2,1226.6 L680.3,1221.2 L687.4,1215.6 L694.5,1209.9 L701.6,1204.0 L708.7,1198.0 L715.8,1191.7 L722.9,1185.3 L730.0,1178.8 L737.1,1172.0 L744.2,1165.1 L751.3,1157.9 L758.4,1150.6 L765.5,1143.2 L772.6,1135.5 L779.7,1127.6 L786.8,1119.6 L793.9,1111.4 L801.0,1103.0 L808.1,1094.4 L815.2,1085.6 L822.3,1076.7 L829.4,1067.5 L836.5,1058.2 L843.6,1048.7 L850.7,1039.0 L857.8,1029.2 L865.0,1019.2 L872.1,1009.0 L879.2,998.7 L886.3,988.2 L893.4,977.5 L900.5,966.8 L907.6,955.9 L914.7,944.8 L921.8,933.6 L928.9,922.4 L936.0,911.0 L943.1,899.5 L950.2,887.9 L957.3,876.3 L964.4,864.5 L971.5,852.7 L978.6,840.8 L985.7,828.9 L992.8,816.9 L999.9,804.9 L1007.0,792.8 L1014.1,780.7 L1021.2,768.6 L1028.3,756.4 L1035.4,744.2 L1042.5,731.9 L1049.6,719.6 L1056.7,707.3 L1063.8,694.9 L1070.9,682.4 L1078.0,669.9 L1085.1,657.4 L1092.2,644.7 L1099.4,632.0 L1106.5,619.3 L1113.6,606.4 L1120.7,593.5 L1127.8,580.4 L1134.9,567.3 L1142.0,554.2 L1149.1,541.0 L1156.2,527.8 L1163.3,514.7 L1170.4,501.6 L1177.5,488.7 L1184.6,475.9 L1191.7,463.4 L1198.8,451.0 L1205.9,438.9 L1213.0,427.0 L1220.1,415.3 L1227.2,403.8 L1234.3,392.6 L1241.4,381.5 L1248.5,370.7 L1255.6,360.1 L1262.7,349.6 L1269.8,339.4 L1276.9,329.3 L1284.0,319.3 L1291.1,309.5 L1298.2,299.9 L1305.3,290.5 L1312.4,281.2 L1319.5,272.0 L1326.6,263.1 L1333.8,254.3 L1340.9,245.6 L1348.0,237.2 L1355.1,229.0 L1362.2,220.9 L1369.3,213.1 L1376.4,205.6 L1383.5,198.2 L1390.6,191.1 L1397.7,184.2 L1404.8,177.5 L1411.9,171.1 L1419.0,164.9 L1426.1,158.9 L1433.2,153.1 L1440.3,147.5 L1447.4,142.1 L1454.5,136.9 L1461.6,131.8 L1468.7,127.0 L1475.8,122.3 L1482.9,117.7 L1490.0,113.4 L1497.1,109.2 L1504.2,105.2 L1511.3,101.3 L1518.4,97.6 L1525.5,94.1 L1532.6,90.7 L1539.7,87.4 L1546.8,84.4 L1553.9,81.5 L1561.0,78.7 L1568.1,76.1 L1575.3,73.6 L1582.4,71.3 L1589.5,69.1 L1596.6,67.0 L1603.7,65.0 L1610.8,63.2 L1617.9,61.5 L1625.0,59.9 L1632.1,58.3 L1639.2,56.9 L1646.3,55.6 L1653.4,54.4 L1660.5,53.2 L1667.6,52.1 L1674.7,51.1 L1681.8,50.2 L1688.9,49.3 L1696.0,48.5 L1703.1,47.7 L1710.2,47.0 L1717.3,46.4 L1724.4,45.7 L1731.5,45.2 L1738.6,44.6 L1745.7,44.1 L1752.8,43.6 L1759.9,43.2 L1767.0,42.7 L1774.1,42.3 L1781.2,42.0 L1788.3,41.6 L1795.4,41.2 L1802.5,40.9 L1809.7,40.6 L1816.8,40.3 L1823.9,40.0 L1831.0,39.7 L1838.1,39.5 L1845.2,39.2 L1852.3,38.9 L1859.4,38.7 L1866.5,38.4 L1873.6,38.2 L1880.7,38.0 L1887.8,37.7 L1894.9,37.5 L1902.0,37.3 L1909.1,37.1 L1916.2,36.9 L1923.3,36.7 L1930.4,36.5 L1937.5,36.3 L1944.6,36.2 L1951.7,36.0 L1958.8,35.8 L1965.9,35.7 L1973.0,35.6" fill="none" stroke="#0f870f" stroke-width="4.3" stroke-dasharray="15.1 17.6"/>
<path d="M274.8,1012.9 L282.5,1012.8 L289.6,1012.7 L296.7,1012.6 L303.8,1012.5 L310.9,1012.3 L318.0,1012.0 L325.1,1011.8 L332.2,1011.5 L339.3,1011.1 L346.4,1010.8 L353.5,1010.3 L360.6,1009.9 L367.7,1009.4 L374.8,1008.8 L381.9,1008.3 L389.1,1007.6 L396.2,1007.0 L403.3,1006.2 L410.4,1005.5 L417.5,1004.7 L424.6,1003.8 L431.7,1002.9 L438.8,1001.9 L445.9,1000.9 L453.0,999.9 L460.1,998.8 L467.2,997.6 L474.3,996.4 L481.4,995.1 L488.5,993.7 L495.6,992.3 L502.7,990.8 L509.8,989.3 L516.9,987.7 L524.0,986.0 L531.1,984.3 L538.2,982.5 L545.3,980.6 L552.4,978.7 L559.5,976.6 L566.6,974.5 L573.7,972.3 L580.8,970.1 L587.9,967.7 L595.0,965.3 L602.1,962.8 L609.2,960.1 L616.3,957.4 L623.5,954.7 L630.6,951.8 L637.7,948.8 L644.8,945.7 L651.9,942.5 L659.0,939.2 L666.1,935.9 L673.2,932.4 L680.3,928.8 L687.4,925.1 L694.5,921.3 L701.6,917.3 L708.7,913.3 L715.8,909.1 L722.9,904.9 L730.0,900.5 L737.1,896.0 L744.2,891.4 L751.3,886.6 L758.4,881.8 L765.5,876.8 L772.6,871.7 L779.7,866.5 L786.8,861.1 L793.9,855.6 L801.0,850.0 L808.1,844.3 L815.2,838.5 L822.3,832.5 L829.4,826.4 L836.5,820.1 L843.6,813.7 L850.7,807.3 L857.8,800.6 L865.0,793.9 L872.1,787.0 L879.2,780.0 L886.3,772.9 L893.4,765.7 L900.5,758.3 L907.6,750.8 L914.7,743.2 L921.8,735.5 L928.9,727.7 L936.0,719.8 L943.1,711.7 L950.2,703.6 L957.3,695.3 L964.4,686.9 L971.5,678.5 L978.6,669.9 L985.7,661.2 L992.8,652.5 L999.9,643.7 L1007.0,634.8 L1014.1,625.8 L1021.2,616.7 L1028.3,607.6 L1035.4,598.4 L1042.5,589.1 L1049.6,579.8 L1056.7,570.4 L1063.8,561.0 L1070.9,551.5 L1078.0,542.0 L1085.1,532.5 L1092.2,522.9 L1099.4,513.3 L1106.5,503.7 L1113.6,494.1 L1120.7,484.5 L1127.8,474.9 L1134.9,465.3 L1142.0,455.7 L1149.1,446.1 L1156.2,436.5 L1163.3,427.0 L1170.4,417.5 L1177.5,408.0 L1184.6,398.6 L1191.7,389.3 L1198.8,380.0 L1205.9,370.7 L1213.0,361.6 L1220.1,352.5 L1227.2,343.5 L1234.3,334.6 L1241.4,325.8 L1248.5,317.0 L1255.6,308.4 L1262.7,299.9 L1269.8,291.5 L1276.9,283.3 L1284.0,275.1 L1291.1,267.1 L1298.2,259.2 L1305.3,251.4 L1312.4,243.8 L1319.5,236.3 L1326.6,229.0 L1333.8,221.8 L1340.9,214.8 L1348.0,207.9 L1355.1,201.2 L1362.2,194.7 L1369.3,188.3 L1376.4,182.0 L1383.5,176.0 L1390.6,170.1 L1397.7,164.3 L1404.8,158.7 L1411.9,153.3 L1419.0,148.1 L1426.1,143.0 L1433.2,138.1 L1440.3,133.3 L1447.4,128.7 L1454.5,124.3 L1461.6,120.0 L1468.7,115.9 L1475.8,111.9 L1482.9,108.1 L1490.0,104.4 L1497.1,100.9 L1504.2,97.5 L1511.3,94.2 L1518.4,91.1 L1525.5,88.2 L1532.6,85.3 L1539.7,82.6 L1546.8,80.0 L1553.9,77.5 L1561.0,75.2 L1568.1,72.9 L1575.3,70.8 L1582.4,68.7 L1589.5,66.8 L1596.6,65.0 L1603.7,63.2 L1610.8,61.6 L1617.9,60.0 L1625.0,58.5 L1632.1,57.1 L1639.2,55.8 L1646.3,54.5 L1653.4,53.4 L1660.5,52.2 L1667.6,51.2 L1674.7,50.2 L1681.8,49.3 L1688.9,48.4 L1696.0,47.6 L1703.1,46.8 L1710.2,46.1 L1717.3,45.4 L1724.4,44.7 L1731.5,44.1 L1738.6,43.6 L1745.7,43.0 L1752.8,42.5 L1759.9,42.1 L1767.0,41.6 L1774.1,41.2 L1781.2,40.8 L1788.3,40.5 L1795.4,40.2 L1802.5,39.8 L1809.7,39.5 L1816.8,39.3 L1823.9,39.0 L1831.0,38.8 L1838.1,38.6 L1845.2,38.4 L1852.3,38.2 L1859.4,38.0 L1866.5,37.8 L1873.6,37.7 L1880.7,37.5 L1887.8,37.4 L1894.9,37.3 L1902.0,37.2 L1909.1,37.0 L1916.2,36.9 L1923.3,36.9 L1930.4,36.8 L1937.5,36.7 L1944.6,36.6 L1951.7,36.5 L1958.8,36.5 L1965.9,36.4 L1973.0,36.4" fill="none" stroke="#0f870f" stroke-width="2.9" stroke-dasharray="4.1 5"/>
<path d="M274.8,1341.2 L282.5,1341.1 L289.6,1340.9 L296.7,1340.7 L303.8,1340.4 L310.9,1340.1 L318.0,1339.7 L325.1,1339.3 L332.2,1338.8 L339.3,1338.2 L346.4,1337.7 L353.5,1337.0 L360.6,1336.3 L367.7,1335.5 L374.8,1334.7 L381.9,1333.9 L389.1,1332.9 L396.2,1331.9 L403.3,1330.9 L410.4,1329.7 L417.5,1328.5 L424.6,1327.3 L431.7,1325.9 L438.8,1324.5 L445.9,1323.0 L453.0,1321.5 L460.1,1319.8 L467.2,1318.1 L474.3,1316.3 L481.4,1314.4 L488.5,1312.5 L495.6,1310.4 L502.7,1308.2 L509.8,1306.0 L516.9,1303.6 L524.0,1301.2 L531.1,1298.6 L538.2,1296.0 L545.3,1293.2 L552.4,1290.3 L559.5,1287.3 L566.6,1284.2 L573.7,1281.0 L580.8,1277.6 L587.9,1274.1 L595.0,1270.5 L602.1,1266.8 L609.2,1262.9 L616.3,1258.9 L623.5,1254.7 L630.6,1250.4 L637.7,1246.0 L644.8,1241.4 L651.9,1236.7 L659.0,1231.8 L666.1,1226.7 L673.2,1221.5 L680.3,1216.2 L687.4,1210.6 L694.5,1204.9 L701.6,1199.1 L708.7,1193.0 L715.8,1186.8 L722.9,1180.5 L730.0,1173.9 L737.1,1167.2 L744.2,1160.3 L751.3,1153.2 L758.4,1145.9 L765.5,1138.5 L772.6,1130.8 L779.7,1123.0 L786.8,1115.0 L793.9,1106.8 L801.0,1098.4 L808.1,1089.9 L815.2,1081.2 L822.3,1072.2 L829.4,1063.1 L836.5,1053.9 L843.6,1044.4 L850.7,1034.8 L857.8,1025.0 L865.0,1015.0 L872.1,1004.9 L879.2,994.6 L886.3,984.1 L893.4,973.6 L900.5,962.8 L907.6,952.0 L914.7,941.0 L921.8,929.8 L928.9,918.6 L936.0,907.3 L943.1,895.8 L950.2,884.3 L957.3,872.7 L964.4,861.0 L971.5,849.2 L978.6,837.4 L985.7,825.6 L992.8,813.6 L999.9,801.7 L1007.0,789.6 L1014.1,777.6 L1021.2,765.5 L1028.3,753.3 L1035.4,741.2 L1042.5,729.0 L1049.6,716.7 L1056.7,704.4 L1063.8,692.1 L1070.9,679.7 L1078.0,667.2 L1085.1,654.7 L1092.2,642.1 L1099.4,629.5 L1106.5,616.8 L1113.6,604.0 L1120.7,591.1 L1127.8,578.1 L1134.9,565.1 L1142.0,552.0 L1149.1,538.8 L1156.2,525.7 L1163.3,512.6 L1170.4,499.6 L1177.5,486.8 L1184.6,474.1 L1191.7,461.6 L1198.8,449.3 L1205.9,437.2 L1213.0,425.3 L1220.1,413.7 L1227.2,402.2 L1234.3,391.0 L1241.4,380.1 L1248.5,369.3 L1255.6,358.7 L1262.7,348.3 L1269.8,338.1 L1276.9,328.0 L1284.0,318.1 L1291.1,308.4 L1298.2,298.8 L1305.3,289.4 L1312.4,280.1 L1319.5,271.0 L1326.6,262.1 L1333.8,253.3 L1340.9,244.7 L1348.0,236.3 L1355.1,228.2 L1362.2,220.2 L1369.3,212.4 L1376.4,204.8 L1383.5,197.5 L1390.6,190.4 L1397.7,183.6 L1404.8,176.9 L1411.9,170.5 L1419.0,164.3 L1426.1,158.4 L1433.2,152.6 L1440.3,147.0 L1447.4,141.6 L1454.5,136.4 L1461.6,131.4 L1468.7,126.6 L1475.8,121.9 L1482.9,117.4 L1490.0,113.1 L1497.1,108.9 L1504.2,104.9 L1511.3,101.0 L1518.4,97.3 L1525.5,93.8 L1532.6,90.4 L1539.7,87.2 L1546.8,84.2 L1553.9,81.3 L1561.0,78.5 L1568.1,75.9 L1575.3,73.4 L1582.4,71.1 L1589.5,68.9 L1596.6,66.8 L1603.7,64.9 L1610.8,63.1 L1617.9,61.4 L1625.0,59.7 L1632.1,58.2 L1639.2,56.8 L1646.3,55.5 L1653.4,54.3 L1660.5,53.1 L1667.6,52.1 L1674.7,51.1 L1681.8,50.1 L1688.9,49.3 L1696.0,48.4 L1703.1,47.7 L1710.2,47.0 L1717.3,46.3 L1724.4,45.7 L1731.5,45.1 L1738.6,44.6 L1745.7,44.1 L1752.8,43.6 L1759.9,43.1 L1767.0,42.7 L1774.1,42.3 L1781.2,41.9 L1788.3,41.6 L1795.4,41.2 L1802.5,40.9 L1809.7,40.6 L1816.8,40.3 L1823.9,40.0 L1831.0,39.7 L1838.1,39.4 L1845.2,39.2 L1852.3,38.9 L1859.4,38.7 L1866.5,38.4 L1873.6,38.2 L1880.7,37.9 L1887.8,37.7 L1894.9,37.5 L1902.0,37.3 L1909.1,37.1 L1916.2,36.9 L1923.3,36.7 L1930.4,36.5 L1937.5,36.3 L1944.6,36.1 L1951.7,36.0 L1958.8,35.8 L1965.9,35.7 L1973.0,35.6" fill="none" stroke="#0f870f" stroke-width="2.9" stroke-dasharray="4.1 5"/>
<path d="M274.8,997.9 L282.5,997.9 L289.6,997.8 L296.7,997.7 L303.8,997.5 L310.9,997.3 L318.0,997.1 L325.1,996.9 L332.2,996.6 L339.3,996.2 L346.4,995.8 L353.5,995.4 L360.6,995.0 L367.7,994.5 L374.8,994.0 L381.9,993.4 L389.1,992.8 L396.2,992.1 L403.3,991.4 L410.4,990.6 L417.5,989.9 L424.6,989.0 L431.7,988.1 L438.8,987.2 L445.9,986.2 L453.0,985.1 L460.1,984.0 L467.2,982.9 L474.3,981.7 L481.4,980.4 L488.5,979.1 L495.6,977.7 L502.7,976.2 L509.8,974.7 L516.9,973.2 L524.0,971.5 L531.1,969.8 L538.2,968.0 L545.3,966.2 L552.4,964.3 L559.5,962.3 L566.6,960.2 L573.7,958.0 L580.8,955.8 L587.9,953.5 L595.0,951.1 L602.1,948.6 L609.2,946.0 L616.3,943.4 L623.5,940.6 L630.6,937.8 L637.7,934.8 L644.8,931.8 L651.9,928.7 L659.0,925.4 L666.1,922.1 L673.2,918.7 L680.3,915.1 L687.4,911.5 L694.5,907.7 L701.6,903.8 L708.7,899.9 L715.8,895.8 L722.9,891.6 L730.0,887.3 L737.1,882.8 L744.2,878.3 L751.3,873.6 L758.4,868.9 L765.5,863.9 L772.6,858.9 L779.7,853.8 L786.8,848.5 L793.9,843.1 L801.0,837.6 L808.1,831.9 L815.2,826.2 L822.3,820.3 L829.4,814.3 L836.5,808.1 L843.6,801.9 L850.7,795.5 L857.8,788.9 L865.0,782.3 L872.1,775.5 L879.2,768.6 L886.3,761.6 L893.4,754.5 L900.5,747.3 L907.6,739.9 L914.7,732.4 L921.8,724.8 L928.9,717.1 L936.0,709.3 L943.1,701.4 L950.2,693.3 L957.3,685.2 L964.4,677.0 L971.5,668.6 L978.6,660.2 L985.7,651.7 L992.8,643.1 L999.9,634.4 L1007.0,625.6 L1014.1,616.7 L1021.2,607.8 L1028.3,598.8 L1035.4,589.8 L1042.5,580.6 L1049.6,571.5 L1056.7,562.2 L1063.8,552.9 L1070.9,543.6 L1078.0,534.3 L1085.1,524.9 L1092.2,515.5 L1099.4,506.0 L1106.5,496.6 L1113.6,487.1 L1120.7,477.6 L1127.8,468.1 L1134.9,458.7 L1142.0,449.2 L1149.1,439.8 L1156.2,430.4 L1163.3,421.0 L1170.4,411.6 L1177.5,402.3 L1184.6,393.1 L1191.7,383.9 L1198.8,374.7 L1205.9,365.6 L1213.0,356.6 L1220.1,347.7 L1227.2,338.8 L1234.3,330.0 L1241.4,321.3 L1248.5,312.7 L1255.6,304.3 L1262.7,295.9 L1269.8,287.6 L1276.9,279.5 L1284.0,271.4 L1291.1,263.5 L1298.2,255.8 L1305.3,248.1 L1312.4,240.6 L1319.5,233.3 L1326.6,226.0 L1333.8,219.0 L1340.9,212.1 L1348.0,205.3 L1355.1,198.7 L1362.2,192.2 L1369.3,185.9 L1376.4,179.8 L1383.5,173.8 L1390.6,168.0 L1397.7,162.3 L1404.8,156.9 L1411.9,151.5 L1419.0,146.4 L1426.1,141.4 L1433.2,136.5 L1440.3,131.8 L1447.4,127.3 L1454.5,122.9 L1461.6,118.7 L1468.7,114.6 L1475.8,110.7 L1482.9,107.0 L1490.0,103.3 L1497.1,99.9 L1504.2,96.5 L1511.3,93.3 L1518.4,90.3 L1525.5,87.3 L1532.6,84.5 L1539.7,81.9 L1546.8,79.3 L1553.9,76.9 L1561.0,74.5 L1568.1,72.3 L1575.3,70.2 L1582.4,68.2 L1589.5,66.3 L1596.6,64.5 L1603.7,62.8 L1610.8,61.2 L1617.9,59.6 L1625.0,58.2 L1632.1,56.8 L1639.2,55.5 L1646.3,54.2 L1653.4,53.1 L1660.5,52.0 L1667.6,50.9 L1674.7,50.0 L1681.8,49.0 L1688.9,48.2 L1696.0,47.4 L1703.1,46.6 L1710.2,45.9 L1717.3,45.2 L1724.4,44.6 L1731.5,44.0 L1738.6,43.4 L1745.7,42.9 L1752.8,42.4 L1759.9,42.0 L1767.0,41.5 L1774.1,41.1 L1781.2,40.7 L1788.3,40.4 L1795.4,40.1 L1802.5,39.8 L1809.7,39.5 L1816.8,39.2 L1823.9,39.0 L1831.0,38.7 L1838.1,38.5 L1845.2,38.3 L1852.3,38.1 L1859.4,37.9 L1866.5,37.8 L1873.6,37.6 L1880.7,37.5 L1887.8,37.4 L1894.9,37.2 L1902.0,37.1 L1909.1,37.0 L1916.2,36.9 L1923.3,36.8 L1930.4,36.7 L1937.5,36.7 L1944.6,36.6 L1951.7,36.5 L1958.8,36.5 L1965.9,36.4 L1973.0,36.3" fill="none" stroke="#000" stroke-width="2.3"/>
<path d="M274.8,1324.9 L282.5,1324.8 L289.6,1324.6 L296.7,1324.4 L303.8,1324.1 L310.9,1323.8 L318.0,1323.4 L325.1,1323.0 L332.2,1322.5 L339.3,1322.0 L346.4,1321.4 L353.5,1320.8 L360.6,1320.1 L367.7,1319.3 L374.8,1318.5 L381.9,1317.7 L389.1,1316.7 L396.2,1315.7 L403.3,1314.7 L410.4,1313.6 L417.5,1312.4 L424.6,1311.2 L431.7,1309.8 L438.8,1308.4 L445.9,1307.0 L453.0,1305.4 L460.1,1303.8 L467.2,1302.1 L474.3,1300.3 L481.4,1298.5 L488.5,1296.5 L495.6,1294.5 L502.7,1292.4 L509.8,1290.1 L516.9,1287.8 L524.0,1285.4 L531.1,1282.9 L538.2,1280.2 L545.3,1277.5 L552.4,1274.7 L559.5,1271.7 L566.6,1268.6 L573.7,1265.4 L580.8,1262.1 L587.9,1258.7 L595.0,1255.1 L602.1,1251.4 L609.2,1247.6 L616.3,1243.6 L623.5,1239.5 L630.6,1235.3 L637.7,1230.9 L644.8,1226.4 L651.9,1221.7 L659.0,1216.9 L666.1,1211.9 L673.2,1206.7 L680.3,1201.4 L687.4,1196.0 L694.5,1190.4 L701.6,1184.6 L708.7,1178.6 L715.8,1172.5 L722.9,1166.2 L730.0,1159.7 L737.1,1153.1 L744.2,1146.2 L751.3,1139.2 L758.4,1132.1 L765.5,1124.7 L772.6,1117.2 L779.7,1109.4 L786.8,1101.5 L793.9,1093.5 L801.0,1085.2 L808.1,1076.7 L815.2,1068.1 L822.3,1059.3 L829.4,1050.3 L836.5,1041.2 L843.6,1031.8 L850.7,1022.3 L857.8,1012.6 L865.0,1002.8 L872.1,992.8 L879.2,982.6 L886.3,972.3 L893.4,961.9 L900.5,951.3 L907.6,940.5 L914.7,929.7 L921.8,918.7 L928.9,907.6 L936.0,896.4 L943.1,885.1 L950.2,873.7 L957.3,862.2 L964.4,850.7 L971.5,839.1 L978.6,827.4 L985.7,815.7 L992.8,803.9 L999.9,792.1 L1007.0,780.2 L1014.1,768.3 L1021.2,756.4 L1028.3,744.4 L1035.4,732.4 L1042.5,720.3 L1049.6,708.2 L1056.7,696.1 L1063.8,683.9 L1070.9,671.6 L1078.0,659.3 L1085.1,647.0 L1092.2,634.6 L1099.4,622.1 L1106.5,609.5 L1113.6,596.9 L1120.7,584.2 L1127.8,571.3 L1134.9,558.5 L1142.0,545.5 L1149.1,532.5 L1156.2,519.6 L1163.3,506.7 L1170.4,493.8 L1177.5,481.1 L1184.6,468.6 L1191.7,456.2 L1198.8,444.1 L1205.9,432.1 L1213.0,420.4 L1220.1,408.9 L1227.2,397.7 L1234.3,386.6 L1241.4,375.8 L1248.5,365.1 L1255.6,354.7 L1262.7,344.4 L1269.8,334.3 L1276.9,324.4 L1284.0,314.6 L1291.1,305.0 L1298.2,295.5 L1305.3,286.2 L1312.4,277.1 L1319.5,268.1 L1326.6,259.3 L1333.8,250.6 L1340.9,242.1 L1348.0,233.8 L1355.1,225.7 L1362.2,217.9 L1369.3,210.2 L1376.4,202.7 L1383.5,195.5 L1390.6,188.5 L1397.7,181.7 L1404.8,175.2 L1411.9,168.8 L1419.0,162.7 L1426.1,156.8 L1433.2,151.1 L1440.3,145.6 L1447.4,140.3 L1454.5,135.2 L1461.6,130.2 L1468.7,125.4 L1475.8,120.8 L1482.9,116.4 L1490.0,112.1 L1497.1,108.0 L1504.2,104.0 L1511.3,100.2 L1518.4,96.6 L1525.5,93.1 L1532.6,89.7 L1539.7,86.6 L1546.8,83.6 L1553.9,80.7 L1561.0,78.0 L1568.1,75.4 L1575.3,73.0 L1582.4,70.7 L1589.5,68.5 L1596.6,66.4 L1603.7,64.5 L1610.8,62.7 L1617.9,61.0 L1625.0,59.4 L1632.1,57.9 L1639.2,56.6 L1646.3,55.3 L1653.4,54.0 L1660.5,52.9 L1667.6,51.9 L1674.7,50.9 L1681.8,49.9 L1688.9,49.1 L1696.0,48.3 L1703.1,47.5 L1710.2,46.8 L1717.3,46.2 L1724.4,45.6 L1731.5,45.0 L1738.6,44.5 L1745.7,43.9 L1752.8,43.5 L1759.9,43.0 L1767.0,42.6 L1774.1,42.2 L1781.2,41.8 L1788.3,41.5 L1795.4,41.1 L1802.5,40.8 L1809.7,40.5 L1816.8,40.2 L1823.9,39.9 L1831.0,39.6 L1838.1,39.4 L1845.2,39.1 L1852.3,38.9 L1859.4,38.6 L1866.5,38.4 L1873.6,38.1 L1880.7,37.9 L1887.8,37.7 L1894.9,37.5 L1902.0,37.3 L1909.1,37.0 L1916.2,36.8 L1923.3,36.7 L1930.4,36.5 L1937.5,36.3 L1944.6,36.1 L1951.7,36.0 L1958.8,35.8 L1965.9,35.7 L1973.0,35.6" fill="none" stroke="#000" stroke-width="2.3"/>
<text transform="translate(253.79,1572.42) scale(0.9315,1)" font-size="56.00">0</text>
<text transform="translate(537.91,1572.42) scale(0.9315,1)" font-size="56.00">2</text>
<text transform="translate(822.20,1572.42) scale(0.9315,1)" font-size="56.00">4</text>
<text transform="translate(1105.98,1572.42) scale(0.9315,1)" font-size="56.00">6</text>
<text transform="translate(1390.27,1572.42) scale(0.9315,1)" font-size="56.00">8</text>
<text transform="translate(1658.92,1572.42) scale(0.9315,1)" font-size="56.00">10</text>
<text transform="translate(1943.33,1572.42) scale(0.9315,1)" font-size="56.00">12</text>
<text transform="translate(211.33,50.20) scale(0.9315,1)" font-size="56.00">0</text>
<text transform="translate(164.94,233.34) scale(0.9315,1)" font-size="56.00">-50</text>
<text transform="translate(135.93,416.48) scale(0.9315,1)" font-size="56.00">-100</text>
<text transform="translate(135.93,599.62) scale(0.9315,1)" font-size="56.00">-150</text>
<text transform="translate(135.93,782.76) scale(0.9315,1)" font-size="56.00">-200</text>
<text transform="translate(135.93,965.90) scale(0.9315,1)" font-size="56.00">-250</text>
<text transform="translate(135.93,1149.04) scale(0.9315,1)" font-size="56.00">-300</text>
<text transform="translate(135.93,1332.18) scale(0.9315,1)" font-size="56.00">-350</text>
<text transform="translate(135.93,1515.32) scale(0.9315,1)" font-size="56.00">-400</text>
<text transform="translate(328.94,157.30) scale(0.9726,1)" font-size="69.19">a)</text>
<text transform="translate(420.69,120.50) scale(0.9868,1)" font-size="39.68">7</text>
<text transform="translate(440.72,157.30) scale(0.9299,1)" font-size="69.19">Li+</text>
<text transform="translate(529.72,120.50) scale(0.9209,1)" font-size="39.68">118</text>
<text transform="translate(589.80,157.30) scale(0.9235,1)" font-size="69.19">Sn</text>
<text transform="translate(300.49,746.70) scale(0.9188,1)" font-size="69.19">DF CDM3Y6-RT</text>
<text transform="translate(686.79,1349.20) scale(0.9176,1)" font-size="69.19">DF CDM3Y6</text>
<text transform="translate(1011.67,1652.50) scale(0.9385,1)" font-size="69.19">R, (fm)</text>
<text transform="translate(73.30,916.90) rotate(-90) scale(0.9823,1)" font-size="69.19">V, (MeV)</text>
<path d="M1386.7,625.80H1529.2" fill="none" stroke="#ff7f00" stroke-width="4.3"/>
<text transform="translate(1547.88,648.50) scale(0.9142,1)" font-size="69.19">18.15 MeV</text>
<path d="M1386.7,708.26H1529.2" fill="none" stroke="#0000ff" stroke-width="4.3" stroke-dasharray="18.3 9.1 4.2 9.2"/>
<text transform="translate(1547.88,730.96) scale(0.9142,1)" font-size="69.19">19.15 MeV</text>
<path d="M1386.7,790.72H1529.2" fill="none" stroke="#000" stroke-width="4.3" stroke-dasharray="4.3 15.3"/>
<text transform="translate(1547.88,813.42) scale(0.9142,1)" font-size="69.19">20.16 MeV</text>
<path d="M1386.7,873.18H1529.2" fill="none" stroke="#0f870f" stroke-width="4.3" stroke-dasharray="15.1 17.6"/>
<text transform="translate(1547.88,895.88) scale(0.9142,1)" font-size="69.19">21.17 MeV</text>
<path d="M1386.7,955.64H1529.2" fill="none" stroke="#0f870f" stroke-width="2.9" stroke-dasharray="4.1 5"/>
<text transform="translate(1547.88,978.34) scale(0.9142,1)" font-size="69.19">28 MeV</text>
<path d="M1386.7,1038.10H1529.2" fill="none" stroke="#000" stroke-width="2.9"/>
<text transform="translate(1547.88,1060.80) scale(0.9142,1)" font-size="69.19">48 MeV</text>
<path d="M586.4,766.0L661.5,883.0" stroke="#000" stroke-width="3.1" fill="none"/>
<path d="M680.7,912.9L654.5,887.5L668.5,878.5Z" fill="#000"/>
<path d="M899.7,1280.8L824.9,1164.0" stroke="#000" stroke-width="3.1" fill="none"/>
<path d="M805.7,1134.1L831.8,1159.5L817.9,1168.5Z" fill="#000"/>
</g>
<g id="pb">
<rect x="2259.20" y="33.10" width="1651.08" height="1451.60" fill="none" stroke="#000" stroke-width="5.8"/>
<path d="M2396.79,1484.70v-13.5M2396.79,33.10v13.5M2534.38,1484.70v-26.8M2534.38,33.10v26.8M2671.97,1484.70v-13.5M2671.97,33.10v13.5M2809.56,1484.70v-26.8M2809.56,33.10v26.8M2947.15,1484.70v-13.5M2947.15,33.10v13.5M3084.74,1484.70v-26.8M3084.74,33.10v26.8M3222.33,1484.70v-13.5M3222.33,33.10v13.5M3359.92,1484.70v-26.8M3359.92,33.10v26.8M3497.51,1484.70v-13.5M3497.51,33.10v13.5M3635.10,1484.70v-26.8M3635.10,33.10v26.8M3772.69,1484.70v-13.5M3772.69,33.10v13.5M2259.20,123.82h12.5M3910.28,123.82h-12.5M2259.20,214.55h24.6M3910.28,214.55h-24.6M2259.20,305.27h12.5M3910.28,305.27h-12.5M2259.20,396.00h24.6M3910.28,396.00h-24.6M2259.20,486.72h12.5M3910.28,486.72h-12.5M2259.20,577.45h24.6M3910.28,577.45h-24.6M2259.20,668.17h12.5M3910.28,668.17h-12.5M2259.20,758.90h24.6M3910.28,758.90h-24.6M2259.20,849.62h12.5M3910.28,849.62h-12.5M2259.20,940.35h24.6M3910.28,940.35h-24.6M2259.20,1031.07h12.5M3910.28,1031.07h-12.5M2259.20,1121.80h24.6M3910.28,1121.80h-24.6M2259.20,1212.52h12.5M3910.28,1212.52h-12.5M2259.20,1303.25h24.6M3910.28,1303.25h-24.6M2259.20,1393.97h12.5M3910.28,1393.97h-12.5" stroke="#000" stroke-width="5.6" fill="none"/>
<path d="M2265.1,1008.0 L2273.0,1007.9 L2279.8,1007.8 L2286.7,1007.7 L2293.6,1007.6 L2300.5,1007.4 L2307.4,1007.2 L2314.2,1006.9 L2321.1,1006.6 L2328.0,1006.3 L2334.9,1005.9 L2341.8,1005.5 L2348.6,1005.0 L2355.5,1004.5 L2362.4,1004.0 L2369.3,1003.4 L2376.2,1002.8 L2383.0,1002.2 L2389.9,1001.5 L2396.8,1000.7 L2403.7,999.9 L2410.5,999.1 L2417.4,998.2 L2424.3,997.2 L2431.2,996.2 L2438.1,995.2 L2444.9,994.1 L2451.8,993.0 L2458.7,991.8 L2465.6,990.5 L2472.5,989.2 L2479.3,987.8 L2486.2,986.4 L2493.1,984.9 L2500.0,983.3 L2506.9,981.7 L2513.7,979.9 L2520.6,978.2 L2527.5,976.3 L2534.4,974.4 L2541.3,972.4 L2548.1,970.4 L2555.0,968.2 L2561.9,966.0 L2568.8,963.7 L2575.7,961.3 L2582.5,958.8 L2589.4,956.3 L2596.3,953.6 L2603.2,950.9 L2610.1,948.1 L2616.9,945.2 L2623.8,942.1 L2630.7,939.0 L2637.6,935.8 L2644.5,932.5 L2651.3,929.1 L2658.2,925.6 L2665.1,922.0 L2672.0,918.2 L2678.8,914.4 L2685.7,910.5 L2692.6,906.4 L2699.5,902.2 L2706.4,897.9 L2713.2,893.5 L2720.1,889.0 L2727.0,884.4 L2733.9,879.6 L2740.8,874.8 L2747.6,869.8 L2754.5,864.7 L2761.4,859.4 L2768.3,854.1 L2775.2,848.6 L2782.0,843.0 L2788.9,837.2 L2795.8,831.4 L2802.7,825.4 L2809.6,819.3 L2816.4,813.1 L2823.3,806.7 L2830.2,800.2 L2837.1,793.6 L2844.0,786.9 L2850.8,780.0 L2857.7,773.1 L2864.6,766.0 L2871.5,758.8 L2878.4,751.4 L2885.2,744.0 L2892.1,736.4 L2899.0,728.8 L2905.9,721.0 L2912.8,713.1 L2919.6,705.1 L2926.5,697.0 L2933.4,688.7 L2940.3,680.4 L2947.2,672.0 L2954.0,663.5 L2960.9,654.9 L2967.8,646.3 L2974.7,637.5 L2981.5,628.6 L2988.4,619.7 L2995.3,610.7 L3002.2,601.7 L3009.1,592.5 L3015.9,583.4 L3022.8,574.1 L3029.7,564.8 L3036.6,555.5 L3043.5,546.1 L3050.3,536.7 L3057.2,527.2 L3064.1,517.8 L3071.0,508.3 L3077.9,498.8 L3084.7,489.3 L3091.6,479.7 L3098.5,470.2 L3105.4,460.7 L3112.3,451.2 L3119.1,441.7 L3126.0,432.3 L3132.9,422.8 L3139.8,413.4 L3146.7,404.1 L3153.5,394.8 L3160.4,385.5 L3167.3,376.3 L3174.2,367.2 L3181.1,358.1 L3187.9,349.1 L3194.8,340.2 L3201.7,331.4 L3208.6,322.7 L3215.5,314.1 L3222.3,305.5 L3229.2,297.1 L3236.1,288.8 L3243.0,280.6 L3249.8,272.5 L3256.7,264.6 L3263.6,256.8 L3270.5,249.1 L3277.4,241.6 L3284.2,234.2 L3291.1,226.9 L3298.0,219.8 L3304.9,212.8 L3311.8,206.0 L3318.6,199.4 L3325.5,192.9 L3332.4,186.5 L3339.3,180.3 L3346.2,174.3 L3353.0,168.4 L3359.9,162.7 L3366.8,157.2 L3373.7,151.8 L3380.6,146.6 L3387.4,141.6 L3394.3,136.7 L3401.2,131.9 L3408.1,127.4 L3415.0,122.9 L3421.8,118.7 L3428.7,114.6 L3435.6,110.6 L3442.5,106.8 L3449.4,103.1 L3456.2,99.6 L3463.1,96.2 L3470.0,93.0 L3476.9,89.9 L3483.8,86.9 L3490.6,84.0 L3497.5,81.3 L3504.4,78.7 L3511.3,76.2 L3518.1,73.9 L3525.0,71.6 L3531.9,69.5 L3538.8,67.4 L3545.7,65.5 L3552.5,63.6 L3559.4,61.9 L3566.3,60.2 L3573.2,58.6 L3580.1,57.1 L3586.9,55.7 L3593.8,54.4 L3600.7,53.1 L3607.6,51.9 L3614.5,50.8 L3621.3,49.7 L3628.2,48.7 L3635.1,47.8 L3642.0,46.9 L3648.9,46.0 L3655.7,45.3 L3662.6,44.5 L3669.5,43.8 L3676.4,43.2 L3683.3,42.6 L3690.1,42.0 L3697.0,41.4 L3703.9,40.9 L3710.8,40.5 L3717.7,40.0 L3724.5,39.6 L3731.4,39.2 L3738.3,38.8 L3745.2,38.5 L3752.1,38.2 L3758.9,37.9 L3765.8,37.6 L3772.7,37.3 L3779.6,37.1 L3786.4,36.9 L3793.3,36.7 L3800.2,36.5 L3807.1,36.3 L3814.0,36.1 L3820.8,35.9 L3827.7,35.8 L3834.6,35.7 L3841.5,35.5 L3848.4,35.4 L3855.2,35.3 L3862.1,35.2 L3869.0,35.1 L3875.9,35.0 L3882.8,34.9 L3889.6,34.9 L3896.5,34.8 L3903.4,34.7 L3910.3,34.7" fill="none" stroke="#ff7f00" stroke-width="4.5"/>
<path d="M2265.1,1336.4 L2273.0,1336.3 L2279.8,1336.1 L2286.7,1335.9 L2293.6,1335.6 L2300.5,1335.3 L2307.4,1334.9 L2314.2,1334.5 L2321.1,1334.0 L2328.0,1333.5 L2334.9,1332.9 L2341.8,1332.3 L2348.6,1331.6 L2355.5,1330.9 L2362.4,1330.1 L2369.3,1329.2 L2376.2,1328.3 L2383.0,1327.3 L2389.9,1326.3 L2396.8,1325.2 L2403.7,1324.0 L2410.5,1322.8 L2417.4,1321.5 L2424.3,1320.1 L2431.2,1318.6 L2438.1,1317.1 L2444.9,1315.5 L2451.8,1313.8 L2458.7,1312.1 L2465.6,1310.2 L2472.5,1308.3 L2479.3,1306.3 L2486.2,1304.2 L2493.1,1302.0 L2500.0,1299.7 L2506.9,1297.3 L2513.7,1294.8 L2520.6,1292.2 L2527.5,1289.5 L2534.4,1286.7 L2541.3,1283.8 L2548.1,1280.8 L2555.0,1277.6 L2561.9,1274.4 L2568.8,1271.0 L2575.7,1267.5 L2582.5,1263.8 L2589.4,1260.0 L2596.3,1256.1 L2603.2,1252.1 L2610.1,1247.9 L2616.9,1243.6 L2623.8,1239.1 L2630.7,1234.5 L2637.6,1229.8 L2644.5,1224.9 L2651.3,1219.8 L2658.2,1214.6 L2665.1,1209.2 L2672.0,1203.7 L2678.8,1198.0 L2685.7,1192.1 L2692.6,1186.1 L2699.5,1179.9 L2706.4,1173.5 L2713.2,1167.0 L2720.1,1160.2 L2727.0,1153.4 L2733.9,1146.3 L2740.8,1139.0 L2747.6,1131.6 L2754.5,1124.0 L2761.4,1116.2 L2768.3,1108.3 L2775.2,1100.1 L2782.0,1091.8 L2788.9,1083.3 L2795.8,1074.6 L2802.7,1065.7 L2809.6,1056.7 L2816.4,1047.5 L2823.3,1038.1 L2830.2,1028.6 L2837.1,1018.8 L2844.0,1008.9 L2850.8,998.9 L2857.7,988.7 L2864.6,978.4 L2871.5,967.9 L2878.4,957.2 L2885.2,946.5 L2892.1,935.6 L2899.0,924.6 L2905.9,913.5 L2912.8,902.3 L2919.6,890.9 L2926.5,879.5 L2933.4,868.1 L2940.3,856.5 L2947.2,844.9 L2954.0,833.2 L2960.9,821.5 L2967.8,809.7 L2974.7,797.8 L2981.5,786.0 L2988.4,774.0 L2995.3,762.1 L3002.2,750.1 L3009.1,738.1 L3015.9,726.0 L3022.8,713.9 L3029.7,701.7 L3036.6,689.5 L3043.5,677.3 L3050.3,665.0 L3057.2,652.6 L3064.1,640.2 L3071.0,627.7 L3077.9,615.2 L3084.7,602.5 L3091.6,589.8 L3098.5,577.0 L3105.4,564.1 L3112.3,551.2 L3119.1,538.2 L3126.0,525.2 L3132.9,512.3 L3139.8,499.4 L3146.7,486.7 L3153.5,474.1 L3160.4,461.7 L3167.3,449.5 L3174.2,437.5 L3181.1,425.7 L3187.9,414.1 L3194.8,402.8 L3201.7,391.6 L3208.6,380.7 L3215.5,370.0 L3222.3,359.5 L3229.2,349.1 L3236.1,339.0 L3243.0,329.0 L3249.8,319.2 L3256.7,309.5 L3263.6,300.0 L3270.5,290.6 L3277.4,281.4 L3284.2,272.3 L3291.1,263.4 L3298.0,254.7 L3304.9,246.1 L3311.8,237.7 L3318.6,229.6 L3325.5,221.6 L3332.4,213.8 L3339.3,206.2 L3346.2,198.9 L3353.0,191.7 L3359.9,184.8 L3366.8,178.2 L3373.7,171.7 L3380.6,165.5 L3387.4,159.5 L3394.3,153.7 L3401.2,148.1 L3408.1,142.6 L3415.0,137.4 L3421.8,132.3 L3428.7,127.4 L3435.6,122.7 L3442.5,118.2 L3449.4,113.8 L3456.2,109.5 L3463.1,105.5 L3470.0,101.6 L3476.9,97.8 L3483.8,94.2 L3490.6,90.8 L3497.5,87.5 L3504.4,84.4 L3511.3,81.4 L3518.1,78.6 L3525.0,75.9 L3531.9,73.4 L3538.8,71.0 L3545.7,68.7 L3552.5,66.5 L3559.4,64.5 L3566.3,62.6 L3573.2,60.8 L3580.1,59.2 L3586.9,57.6 L3593.8,56.1 L3600.7,54.8 L3607.6,53.5 L3614.5,52.3 L3621.3,51.1 L3628.2,50.1 L3635.1,49.1 L3642.0,48.2 L3648.9,47.3 L3655.7,46.5 L3662.6,45.8 L3669.5,45.1 L3676.4,44.4 L3683.3,43.8 L3690.1,43.3 L3697.0,42.7 L3703.9,42.2 L3710.8,41.8 L3717.7,41.3 L3724.5,40.9 L3731.4,40.5 L3738.3,40.1 L3745.2,39.8 L3752.1,39.4 L3758.9,39.1 L3765.8,38.8 L3772.7,38.5 L3779.6,38.2 L3786.4,37.9 L3793.3,37.6 L3800.2,37.4 L3807.1,37.1 L3814.0,36.9 L3820.8,36.6 L3827.7,36.4 L3834.6,36.2 L3841.5,35.9 L3848.4,35.7 L3855.2,35.5 L3862.1,35.3 L3869.0,35.1 L3875.9,34.9 L3882.8,34.7 L3889.6,34.6 L3896.5,34.4 L3903.4,34.2 L3910.3,34.1" fill="none" stroke="#ff7f00" stroke-width="4.5"/>
<path d="M2265.1,1006.5 L2273.0,1006.4 L2279.8,1006.3 L2286.7,1006.2 L2293.6,1006.1 L2300.5,1005.9 L2307.4,1005.7 L2314.2,1005.4 L2321.1,1005.1 L2328.0,1004.8 L2334.9,1004.4 L2341.8,1004.0 L2348.6,1003.6 L2355.5,1003.1 L2362.4,1002.5 L2369.3,1002.0 L2376.2,1001.3 L2383.0,1000.7 L2389.9,1000.0 L2396.8,999.2 L2403.7,998.4 L2410.5,997.6 L2417.4,996.7 L2424.3,995.8 L2431.2,994.8 L2438.1,993.7 L2444.9,992.7 L2451.8,991.5 L2458.7,990.3 L2465.6,989.0 L2472.5,987.7 L2479.3,986.3 L2486.2,984.9 L2493.1,983.4 L2500.0,981.8 L2506.9,980.2 L2513.7,978.5 L2520.6,976.7 L2527.5,974.9 L2534.4,973.0 L2541.3,971.0 L2548.1,968.9 L2555.0,966.8 L2561.9,964.6 L2568.8,962.3 L2575.7,959.9 L2582.5,957.4 L2589.4,954.9 L2596.3,952.2 L2603.2,949.5 L2610.1,946.7 L2616.9,943.8 L2623.8,940.8 L2630.7,937.7 L2637.6,934.5 L2644.5,931.2 L2651.3,927.7 L2658.2,924.2 L2665.1,920.6 L2672.0,916.9 L2678.8,913.1 L2685.7,909.1 L2692.6,905.1 L2699.5,900.9 L2706.4,896.6 L2713.2,892.2 L2720.1,887.7 L2727.0,883.1 L2733.9,878.4 L2740.8,873.5 L2747.6,868.5 L2754.5,863.4 L2761.4,858.2 L2768.3,852.8 L2775.2,847.3 L2782.0,841.7 L2788.9,836.0 L2795.8,830.2 L2802.7,824.2 L2809.6,818.1 L2816.4,811.9 L2823.3,805.5 L2830.2,799.1 L2837.1,792.5 L2844.0,785.8 L2850.8,778.9 L2857.7,772.0 L2864.6,764.9 L2871.5,757.7 L2878.4,750.4 L2885.2,742.9 L2892.1,735.4 L2899.0,727.7 L2905.9,719.9 L2912.8,712.0 L2919.6,704.0 L2926.5,696.0 L2933.4,687.8 L2940.3,679.5 L2947.2,671.1 L2954.0,662.6 L2960.9,654.0 L2967.8,645.3 L2974.7,636.6 L2981.5,627.7 L2988.4,618.8 L2995.3,609.9 L3002.2,600.8 L3009.1,591.7 L3015.9,582.5 L3022.8,573.3 L3029.7,564.0 L3036.6,554.7 L3043.5,545.3 L3050.3,535.9 L3057.2,526.5 L3064.1,517.0 L3071.0,507.6 L3077.9,498.1 L3084.7,488.6 L3091.6,479.1 L3098.5,469.6 L3105.4,460.1 L3112.3,450.6 L3119.1,441.1 L3126.0,431.6 L3132.9,422.2 L3139.8,412.9 L3146.7,403.5 L3153.5,394.2 L3160.4,385.0 L3167.3,375.8 L3174.2,366.7 L3181.1,357.6 L3187.9,348.7 L3194.8,339.8 L3201.7,331.0 L3208.6,322.3 L3215.5,313.6 L3222.3,305.1 L3229.2,296.7 L3236.1,288.4 L3243.0,280.2 L3249.8,272.2 L3256.7,264.2 L3263.6,256.4 L3270.5,248.8 L3277.4,241.2 L3284.2,233.9 L3291.1,226.6 L3298.0,219.5 L3304.9,212.6 L3311.8,205.8 L3318.6,199.1 L3325.5,192.6 L3332.4,186.3 L3339.3,180.1 L3346.2,174.1 L3353.0,168.2 L3359.9,162.6 L3366.8,157.0 L3373.7,151.7 L3380.6,146.4 L3387.4,141.4 L3394.3,136.5 L3401.2,131.8 L3408.1,127.2 L3415.0,122.8 L3421.8,118.5 L3428.7,114.4 L3435.6,110.5 L3442.5,106.7 L3449.4,103.0 L3456.2,99.5 L3463.1,96.1 L3470.0,92.9 L3476.9,89.8 L3483.8,86.8 L3490.6,84.0 L3497.5,81.2 L3504.4,78.6 L3511.3,76.2 L3518.1,73.8 L3525.0,71.5 L3531.9,69.4 L3538.8,67.4 L3545.7,65.4 L3552.5,63.6 L3559.4,61.8 L3566.3,60.2 L3573.2,58.6 L3580.1,57.1 L3586.9,55.7 L3593.8,54.3 L3600.7,53.1 L3607.6,51.9 L3614.5,50.8 L3621.3,49.7 L3628.2,48.7 L3635.1,47.8 L3642.0,46.9 L3648.9,46.0 L3655.7,45.2 L3662.6,44.5 L3669.5,43.8 L3676.4,43.2 L3683.3,42.5 L3690.1,42.0 L3697.0,41.4 L3703.9,40.9 L3710.8,40.4 L3717.7,40.0 L3724.5,39.6 L3731.4,39.2 L3738.3,38.8 L3745.2,38.5 L3752.1,38.2 L3758.9,37.9 L3765.8,37.6 L3772.7,37.3 L3779.6,37.1 L3786.4,36.9 L3793.3,36.7 L3800.2,36.5 L3807.1,36.3 L3814.0,36.1 L3820.8,35.9 L3827.7,35.8 L3834.6,35.7 L3841.5,35.5 L3848.4,35.4 L3855.2,35.3 L3862.1,35.2 L3869.0,35.1 L3875.9,35.0 L3882.8,34.9 L3889.6,34.8 L3896.5,34.8 L3903.4,34.7 L3910.3,34.7" fill="none" stroke="#0000ff" stroke-width="4.5" stroke-dasharray="17.9 8.4 4.6 8.8"/>
<path d="M2265.1,1334.8 L2273.0,1334.7 L2279.8,1334.5 L2286.7,1334.3 L2293.6,1334.0 L2300.5,1333.7 L2307.4,1333.3 L2314.2,1332.9 L2321.1,1332.4 L2328.0,1331.9 L2334.9,1331.3 L2341.8,1330.7 L2348.6,1330.0 L2355.5,1329.3 L2362.4,1328.5 L2369.3,1327.6 L2376.2,1326.7 L2383.0,1325.7 L2389.9,1324.7 L2396.8,1323.6 L2403.7,1322.4 L2410.5,1321.2 L2417.4,1319.9 L2424.3,1318.5 L2431.2,1317.0 L2438.1,1315.5 L2444.9,1313.9 L2451.8,1312.2 L2458.7,1310.5 L2465.6,1308.7 L2472.5,1306.7 L2479.3,1304.7 L2486.2,1302.6 L2493.1,1300.4 L2500.0,1298.1 L2506.9,1295.7 L2513.7,1293.3 L2520.6,1290.7 L2527.5,1288.0 L2534.4,1285.2 L2541.3,1282.3 L2548.1,1279.2 L2555.0,1276.1 L2561.9,1272.8 L2568.8,1269.4 L2575.7,1265.9 L2582.5,1262.3 L2589.4,1258.5 L2596.3,1254.6 L2603.2,1250.6 L2610.1,1246.4 L2616.9,1242.1 L2623.8,1237.7 L2630.7,1233.1 L2637.6,1228.3 L2644.5,1223.4 L2651.3,1218.3 L2658.2,1213.1 L2665.1,1207.8 L2672.0,1202.2 L2678.8,1196.5 L2685.7,1190.7 L2692.6,1184.7 L2699.5,1178.5 L2706.4,1172.1 L2713.2,1165.6 L2720.1,1158.9 L2727.0,1152.0 L2733.9,1144.9 L2740.8,1137.7 L2747.6,1130.3 L2754.5,1122.7 L2761.4,1114.9 L2768.3,1106.9 L2775.2,1098.8 L2782.0,1090.5 L2788.9,1082.0 L2795.8,1073.3 L2802.7,1064.5 L2809.6,1055.4 L2816.4,1046.2 L2823.3,1036.9 L2830.2,1027.3 L2837.1,1017.6 L2844.0,1007.7 L2850.8,997.7 L2857.7,987.5 L2864.6,977.2 L2871.5,966.7 L2878.4,956.1 L2885.2,945.3 L2892.1,934.5 L2899.0,923.5 L2905.9,912.4 L2912.8,901.2 L2919.6,889.9 L2926.5,878.5 L2933.4,867.0 L2940.3,855.5 L2947.2,843.9 L2954.0,832.2 L2960.9,820.5 L2967.8,808.7 L2974.7,796.9 L2981.5,785.0 L2988.4,773.1 L2995.3,761.2 L3002.2,749.2 L3009.1,737.2 L3015.9,725.1 L3022.8,713.0 L3029.7,700.9 L3036.6,688.7 L3043.5,676.5 L3050.3,664.2 L3057.2,651.9 L3064.1,639.5 L3071.0,627.0 L3077.9,614.5 L3084.7,601.8 L3091.6,589.1 L3098.5,576.3 L3105.4,563.4 L3112.3,550.5 L3119.1,537.6 L3126.0,524.6 L3132.9,511.7 L3139.8,498.8 L3146.7,486.1 L3153.5,473.5 L3160.4,461.1 L3167.3,448.9 L3174.2,437.0 L3181.1,425.2 L3187.9,413.6 L3194.8,402.3 L3201.7,391.2 L3208.6,380.3 L3215.5,369.6 L3222.3,359.1 L3229.2,348.7 L3236.1,338.6 L3243.0,328.6 L3249.8,318.8 L3256.7,309.1 L3263.6,299.6 L3270.5,290.3 L3277.4,281.1 L3284.2,272.0 L3291.1,263.1 L3298.0,254.4 L3304.9,245.9 L3311.8,237.5 L3318.6,229.3 L3325.5,221.3 L3332.4,213.6 L3339.3,206.0 L3346.2,198.7 L3353.0,191.5 L3359.9,184.7 L3366.8,178.0 L3373.7,171.6 L3380.6,165.3 L3387.4,159.3 L3394.3,153.5 L3401.2,147.9 L3408.1,142.5 L3415.0,137.3 L3421.8,132.2 L3428.7,127.3 L3435.6,122.6 L3442.5,118.1 L3449.4,113.7 L3456.2,109.5 L3463.1,105.4 L3470.0,101.5 L3476.9,97.7 L3483.8,94.2 L3490.6,90.7 L3497.5,87.4 L3504.4,84.3 L3511.3,81.3 L3518.1,78.5 L3525.0,75.8 L3531.9,73.3 L3538.8,70.9 L3545.7,68.6 L3552.5,66.5 L3559.4,64.5 L3566.3,62.6 L3573.2,60.8 L3580.1,59.1 L3586.9,57.6 L3593.8,56.1 L3600.7,54.7 L3607.6,53.4 L3614.5,52.2 L3621.3,51.1 L3628.2,50.1 L3635.1,49.1 L3642.0,48.2 L3648.9,47.3 L3655.7,46.5 L3662.6,45.8 L3669.5,45.1 L3676.4,44.4 L3683.3,43.8 L3690.1,43.3 L3697.0,42.7 L3703.9,42.2 L3710.8,41.7 L3717.7,41.3 L3724.5,40.9 L3731.4,40.5 L3738.3,40.1 L3745.2,39.8 L3752.1,39.4 L3758.9,39.1 L3765.8,38.8 L3772.7,38.5 L3779.6,38.2 L3786.4,37.9 L3793.3,37.6 L3800.2,37.4 L3807.1,37.1 L3814.0,36.9 L3820.8,36.6 L3827.7,36.4 L3834.6,36.2 L3841.5,35.9 L3848.4,35.7 L3855.2,35.5 L3862.1,35.3 L3869.0,35.1 L3875.9,34.9 L3882.8,34.7 L3889.6,34.5 L3896.5,34.4 L3903.4,34.2 L3910.3,34.1" fill="none" stroke="#0000ff" stroke-width="4.5" stroke-dasharray="17.9 8.4 4.6 8.8"/>
<path d="M2265.1,1005.0 L2273.0,1004.9 L2279.8,1004.9 L2286.7,1004.8 L2293.6,1004.6 L2300.5,1004.4 L2307.4,1004.2 L2314.2,1003.9 L2321.1,1003.6 L2328.0,1003.3 L2334.9,1002.9 L2341.8,1002.5 L2348.6,1002.1 L2355.5,1001.6 L2362.4,1001.1 L2369.3,1000.5 L2376.2,999.9 L2383.0,999.2 L2389.9,998.5 L2396.8,997.8 L2403.7,997.0 L2410.5,996.1 L2417.4,995.2 L2424.3,994.3 L2431.2,993.3 L2438.1,992.3 L2444.9,991.2 L2451.8,990.0 L2458.7,988.8 L2465.6,987.6 L2472.5,986.3 L2479.3,984.9 L2486.2,983.5 L2493.1,982.0 L2500.0,980.4 L2506.9,978.8 L2513.7,977.1 L2520.6,975.3 L2527.5,973.5 L2534.4,971.6 L2541.3,969.6 L2548.1,967.5 L2555.0,965.4 L2561.9,963.2 L2568.8,960.9 L2575.7,958.5 L2582.5,956.0 L2589.4,953.5 L2596.3,950.8 L2603.2,948.1 L2610.1,945.3 L2616.9,942.4 L2623.8,939.4 L2630.7,936.3 L2637.6,933.1 L2644.5,929.8 L2651.3,926.4 L2658.2,922.9 L2665.1,919.3 L2672.0,915.5 L2678.8,911.7 L2685.7,907.8 L2692.6,903.7 L2699.5,899.6 L2706.4,895.3 L2713.2,890.9 L2720.1,886.4 L2727.0,881.8 L2733.9,877.1 L2740.8,872.2 L2747.6,867.2 L2754.5,862.1 L2761.4,856.9 L2768.3,851.6 L2775.2,846.1 L2782.0,840.5 L2788.9,834.8 L2795.8,829.0 L2802.7,823.0 L2809.6,816.9 L2816.4,810.7 L2823.3,804.4 L2830.2,797.9 L2837.1,791.3 L2844.0,784.6 L2850.8,777.8 L2857.7,770.8 L2864.6,763.8 L2871.5,756.6 L2878.4,749.3 L2885.2,741.8 L2892.1,734.3 L2899.0,726.6 L2905.9,718.9 L2912.8,711.0 L2919.6,703.0 L2926.5,694.9 L2933.4,686.8 L2940.3,678.5 L2947.2,670.1 L2954.0,661.6 L2960.9,653.0 L2967.8,644.4 L2974.7,635.7 L2981.5,626.8 L2988.4,617.9 L2995.3,609.0 L3002.2,599.9 L3009.1,590.8 L3015.9,581.7 L3022.8,572.5 L3029.7,563.2 L3036.6,553.9 L3043.5,544.6 L3050.3,535.2 L3057.2,525.7 L3064.1,516.3 L3071.0,506.8 L3077.9,497.4 L3084.7,487.9 L3091.6,478.4 L3098.5,468.9 L3105.4,459.4 L3112.3,449.9 L3119.1,440.5 L3126.0,431.0 L3132.9,421.6 L3139.8,412.3 L3146.7,402.9 L3153.5,393.7 L3160.4,384.4 L3167.3,375.3 L3174.2,366.2 L3181.1,357.1 L3187.9,348.2 L3194.8,339.3 L3201.7,330.5 L3208.6,321.8 L3215.5,313.2 L3222.3,304.7 L3229.2,296.3 L3236.1,288.0 L3243.0,279.9 L3249.8,271.8 L3256.7,263.9 L3263.6,256.1 L3270.5,248.4 L3277.4,240.9 L3284.2,233.5 L3291.1,226.3 L3298.0,219.2 L3304.9,212.3 L3311.8,205.5 L3318.6,198.9 L3325.5,192.4 L3332.4,186.1 L3339.3,179.9 L3346.2,173.9 L3353.0,168.0 L3359.9,162.4 L3366.8,156.8 L3373.7,151.5 L3380.6,146.3 L3387.4,141.2 L3394.3,136.4 L3401.2,131.6 L3408.1,127.1 L3415.0,122.7 L3421.8,118.4 L3428.7,114.3 L3435.6,110.4 L3442.5,106.6 L3449.4,102.9 L3456.2,99.4 L3463.1,96.0 L3470.0,92.8 L3476.9,89.7 L3483.8,86.7 L3490.6,83.9 L3497.5,81.2 L3504.4,78.6 L3511.3,76.1 L3518.1,73.7 L3525.0,71.5 L3531.9,69.3 L3538.8,67.3 L3545.7,65.4 L3552.5,63.5 L3559.4,61.8 L3566.3,60.1 L3573.2,58.5 L3580.1,57.1 L3586.9,55.6 L3593.8,54.3 L3600.7,53.0 L3607.6,51.9 L3614.5,50.7 L3621.3,49.7 L3628.2,48.7 L3635.1,47.7 L3642.0,46.8 L3648.9,46.0 L3655.7,45.2 L3662.6,44.5 L3669.5,43.8 L3676.4,43.1 L3683.3,42.5 L3690.1,41.9 L3697.0,41.4 L3703.9,40.9 L3710.8,40.4 L3717.7,40.0 L3724.5,39.6 L3731.4,39.2 L3738.3,38.8 L3745.2,38.5 L3752.1,38.2 L3758.9,37.9 L3765.8,37.6 L3772.7,37.3 L3779.6,37.1 L3786.4,36.9 L3793.3,36.7 L3800.2,36.5 L3807.1,36.3 L3814.0,36.1 L3820.8,35.9 L3827.7,35.8 L3834.6,35.7 L3841.5,35.5 L3848.4,35.4 L3855.2,35.3 L3862.1,35.2 L3869.0,35.1 L3875.9,35.0 L3882.8,34.9 L3889.6,34.8 L3896.5,34.8 L3903.4,34.7 L3910.3,34.7" fill="none" stroke="#000" stroke-width="4.2" stroke-dasharray="4.2 14.8"/>
<path d="M2265.1,1333.2 L2273.0,1333.0 L2279.8,1332.9 L2286.7,1332.7 L2293.6,1332.4 L2300.5,1332.1 L2307.4,1331.7 L2314.2,1331.3 L2321.1,1330.8 L2328.0,1330.3 L2334.9,1329.7 L2341.8,1329.1 L2348.6,1328.4 L2355.5,1327.6 L2362.4,1326.8 L2369.3,1326.0 L2376.2,1325.1 L2383.0,1324.1 L2389.9,1323.1 L2396.8,1322.0 L2403.7,1320.8 L2410.5,1319.6 L2417.4,1318.3 L2424.3,1316.9 L2431.2,1315.4 L2438.1,1313.9 L2444.9,1312.3 L2451.8,1310.7 L2458.7,1308.9 L2465.6,1307.1 L2472.5,1305.1 L2479.3,1303.1 L2486.2,1301.0 L2493.1,1298.8 L2500.0,1296.6 L2506.9,1294.2 L2513.7,1291.7 L2520.6,1289.1 L2527.5,1286.4 L2534.4,1283.6 L2541.3,1280.7 L2548.1,1277.7 L2555.0,1274.5 L2561.9,1271.3 L2568.8,1267.9 L2575.7,1264.4 L2582.5,1260.8 L2589.4,1257.0 L2596.3,1253.1 L2603.2,1249.1 L2610.1,1244.9 L2616.9,1240.6 L2623.8,1236.2 L2630.7,1231.6 L2637.6,1226.8 L2644.5,1221.9 L2651.3,1216.9 L2658.2,1211.7 L2665.1,1206.3 L2672.0,1200.8 L2678.8,1195.1 L2685.7,1189.2 L2692.6,1183.2 L2699.5,1177.0 L2706.4,1170.7 L2713.2,1164.2 L2720.1,1157.5 L2727.0,1150.6 L2733.9,1143.5 L2740.8,1136.3 L2747.6,1128.9 L2754.5,1121.3 L2761.4,1113.5 L2768.3,1105.6 L2775.2,1097.5 L2782.0,1089.2 L2788.9,1080.7 L2795.8,1072.0 L2802.7,1063.2 L2809.6,1054.2 L2816.4,1045.0 L2823.3,1035.6 L2830.2,1026.1 L2837.1,1016.4 L2844.0,1006.5 L2850.8,996.5 L2857.7,986.3 L2864.6,976.0 L2871.5,965.5 L2878.4,954.9 L2885.2,944.2 L2892.1,933.4 L2899.0,922.4 L2905.9,911.3 L2912.8,900.1 L2919.6,888.8 L2926.5,877.4 L2933.4,866.0 L2940.3,854.5 L2947.2,842.9 L2954.0,831.2 L2960.9,819.5 L2967.8,807.7 L2974.7,795.9 L2981.5,784.1 L2988.4,772.2 L2995.3,760.3 L3002.2,748.3 L3009.1,736.3 L3015.9,724.3 L3022.8,712.2 L3029.7,700.1 L3036.6,687.9 L3043.5,675.7 L3050.3,663.4 L3057.2,651.1 L3064.1,638.7 L3071.0,626.3 L3077.9,613.7 L3084.7,601.1 L3091.6,588.4 L3098.5,575.6 L3105.4,562.8 L3112.3,549.9 L3119.1,536.9 L3126.0,524.0 L3132.9,511.1 L3139.8,498.3 L3146.7,485.5 L3153.5,473.0 L3160.4,460.6 L3167.3,448.4 L3174.2,436.5 L3181.1,424.7 L3187.9,413.2 L3194.8,401.8 L3201.7,390.8 L3208.6,379.9 L3215.5,369.2 L3222.3,358.7 L3229.2,348.4 L3236.1,338.2 L3243.0,328.2 L3249.8,318.4 L3256.7,308.8 L3263.6,299.3 L3270.5,289.9 L3277.4,280.8 L3284.2,271.7 L3291.1,262.8 L3298.0,254.1 L3304.9,245.6 L3311.8,237.2 L3318.6,229.1 L3325.5,221.1 L3332.4,213.3 L3339.3,205.8 L3346.2,198.5 L3353.0,191.4 L3359.9,184.5 L3366.8,177.8 L3373.7,171.4 L3380.6,165.2 L3387.4,159.2 L3394.3,153.4 L3401.2,147.8 L3408.1,142.4 L3415.0,137.1 L3421.8,132.1 L3428.7,127.2 L3435.6,122.5 L3442.5,118.0 L3449.4,113.6 L3456.2,109.4 L3463.1,105.3 L3470.0,101.4 L3476.9,97.7 L3483.8,94.1 L3490.6,90.6 L3497.5,87.4 L3504.4,84.3 L3511.3,81.3 L3518.1,78.5 L3525.0,75.8 L3531.9,73.3 L3538.8,70.9 L3545.7,68.6 L3552.5,66.5 L3559.4,64.4 L3566.3,62.6 L3573.2,60.8 L3580.1,59.1 L3586.9,57.5 L3593.8,56.1 L3600.7,54.7 L3607.6,53.4 L3614.5,52.2 L3621.3,51.1 L3628.2,50.1 L3635.1,49.1 L3642.0,48.2 L3648.9,47.3 L3655.7,46.5 L3662.6,45.8 L3669.5,45.1 L3676.4,44.4 L3683.3,43.8 L3690.1,43.2 L3697.0,42.7 L3703.9,42.2 L3710.8,41.7 L3717.7,41.3 L3724.5,40.9 L3731.4,40.5 L3738.3,40.1 L3745.2,39.7 L3752.1,39.4 L3758.9,39.1 L3765.8,38.8 L3772.7,38.5 L3779.6,38.2 L3786.4,37.9 L3793.3,37.6 L3800.2,37.4 L3807.1,37.1 L3814.0,36.9 L3820.8,36.6 L3827.7,36.4 L3834.6,36.2 L3841.5,35.9 L3848.4,35.7 L3855.2,35.5 L3862.1,35.3 L3869.0,35.1 L3875.9,34.9 L3882.8,34.7 L3889.6,34.5 L3896.5,34.4 L3903.4,34.2 L3910.3,34.1" fill="none" stroke="#000" stroke-width="4.2" stroke-dasharray="4.2 14.8"/>
<path d="M2265.1,1003.5 L2273.0,1003.5 L2279.8,1003.4 L2286.7,1003.3 L2293.6,1003.1 L2300.5,1002.9 L2307.4,1002.7 L2314.2,1002.5 L2321.1,1002.2 L2328.0,1001.8 L2334.9,1001.5 L2341.8,1001.0 L2348.6,1000.6 L2355.5,1000.1 L2362.4,999.6 L2369.3,999.0 L2376.2,998.4 L2383.0,997.7 L2389.9,997.0 L2396.8,996.3 L2403.7,995.5 L2410.5,994.7 L2417.4,993.8 L2424.3,992.8 L2431.2,991.9 L2438.1,990.8 L2444.9,989.7 L2451.8,988.6 L2458.7,987.4 L2465.6,986.1 L2472.5,984.8 L2479.3,983.4 L2486.2,982.0 L2493.1,980.5 L2500.0,979.0 L2506.9,977.3 L2513.7,975.6 L2520.6,973.9 L2527.5,972.0 L2534.4,970.1 L2541.3,968.2 L2548.1,966.1 L2555.0,964.0 L2561.9,961.8 L2568.8,959.5 L2575.7,957.1 L2582.5,954.6 L2589.4,952.1 L2596.3,949.5 L2603.2,946.7 L2610.1,943.9 L2616.9,941.0 L2623.8,938.0 L2630.7,934.9 L2637.6,931.7 L2644.5,928.4 L2651.3,925.0 L2658.2,921.5 L2665.1,917.9 L2672.0,914.2 L2678.8,910.4 L2685.7,906.5 L2692.6,902.4 L2699.5,898.3 L2706.4,894.0 L2713.2,889.6 L2720.1,885.1 L2727.0,880.5 L2733.9,875.8 L2740.8,870.9 L2747.6,866.0 L2754.5,860.9 L2761.4,855.7 L2768.3,850.3 L2775.2,844.9 L2782.0,839.3 L2788.9,833.6 L2795.8,827.7 L2802.7,821.8 L2809.6,815.7 L2816.4,809.5 L2823.3,803.2 L2830.2,796.7 L2837.1,790.2 L2844.0,783.5 L2850.8,776.6 L2857.7,769.7 L2864.6,762.6 L2871.5,755.5 L2878.4,748.2 L2885.2,740.8 L2892.1,733.2 L2899.0,725.6 L2905.9,717.8 L2912.8,710.0 L2919.6,702.0 L2926.5,693.9 L2933.4,685.8 L2940.3,677.5 L2947.2,669.1 L2954.0,660.7 L2960.9,652.1 L2967.8,643.5 L2974.7,634.7 L2981.5,625.9 L2988.4,617.1 L2995.3,608.1 L3002.2,599.1 L3009.1,590.0 L3015.9,580.9 L3022.8,571.7 L3029.7,562.4 L3036.6,553.1 L3043.5,543.8 L3050.3,534.4 L3057.2,525.0 L3064.1,515.6 L3071.0,506.1 L3077.9,496.7 L3084.7,487.2 L3091.6,477.7 L3098.5,468.2 L3105.4,458.8 L3112.3,449.3 L3119.1,439.9 L3126.0,430.4 L3132.9,421.0 L3139.8,411.7 L3146.7,402.4 L3153.5,393.1 L3160.4,383.9 L3167.3,374.8 L3174.2,365.7 L3181.1,356.6 L3187.9,347.7 L3194.8,338.8 L3201.7,330.1 L3208.6,321.4 L3215.5,312.8 L3222.3,304.3 L3229.2,295.9 L3236.1,287.6 L3243.0,279.5 L3249.8,271.5 L3256.7,263.5 L3263.6,255.8 L3270.5,248.1 L3277.4,240.6 L3284.2,233.2 L3291.1,226.0 L3298.0,218.9 L3304.9,212.0 L3311.8,205.2 L3318.6,198.6 L3325.5,192.1 L3332.4,185.8 L3339.3,179.7 L3346.2,173.7 L3353.0,167.8 L3359.9,162.2 L3366.8,156.6 L3373.7,151.3 L3380.6,146.1 L3387.4,141.1 L3394.3,136.2 L3401.2,131.5 L3408.1,126.9 L3415.0,122.5 L3421.8,118.3 L3428.7,114.2 L3435.6,110.2 L3442.5,106.5 L3449.4,102.8 L3456.2,99.3 L3463.1,95.9 L3470.0,92.7 L3476.9,89.6 L3483.8,86.6 L3490.6,83.8 L3497.5,81.1 L3504.4,78.5 L3511.3,76.0 L3518.1,73.7 L3525.0,71.4 L3531.9,69.3 L3538.8,67.3 L3545.7,65.3 L3552.5,63.5 L3559.4,61.7 L3566.3,60.1 L3573.2,58.5 L3580.1,57.0 L3586.9,55.6 L3593.8,54.3 L3600.7,53.0 L3607.6,51.8 L3614.5,50.7 L3621.3,49.6 L3628.2,48.6 L3635.1,47.7 L3642.0,46.8 L3648.9,46.0 L3655.7,45.2 L3662.6,44.5 L3669.5,43.8 L3676.4,43.1 L3683.3,42.5 L3690.1,41.9 L3697.0,41.4 L3703.9,40.9 L3710.8,40.4 L3717.7,40.0 L3724.5,39.6 L3731.4,39.2 L3738.3,38.8 L3745.2,38.5 L3752.1,38.2 L3758.9,37.9 L3765.8,37.6 L3772.7,37.3 L3779.6,37.1 L3786.4,36.9 L3793.3,36.6 L3800.2,36.4 L3807.1,36.3 L3814.0,36.1 L3820.8,35.9 L3827.7,35.8 L3834.6,35.7 L3841.5,35.5 L3848.4,35.4 L3855.2,35.3 L3862.1,35.2 L3869.0,35.1 L3875.9,35.0 L3882.8,34.9 L3889.6,34.8 L3896.5,34.8 L3903.4,34.7 L3910.3,34.6" fill="none" stroke="#0000d8" stroke-width="2.8"/>
<path d="M2265.1,1331.6 L2273.0,1331.4 L2279.8,1331.3 L2286.7,1331.0 L2293.6,1330.8 L2300.5,1330.4 L2307.4,1330.1 L2314.2,1329.7 L2321.1,1329.2 L2328.0,1328.7 L2334.9,1328.1 L2341.8,1327.5 L2348.6,1326.8 L2355.5,1326.0 L2362.4,1325.2 L2369.3,1324.4 L2376.2,1323.5 L2383.0,1322.5 L2389.9,1321.5 L2396.8,1320.4 L2403.7,1319.2 L2410.5,1318.0 L2417.4,1316.7 L2424.3,1315.3 L2431.2,1313.9 L2438.1,1312.3 L2444.9,1310.7 L2451.8,1309.1 L2458.7,1307.3 L2465.6,1305.5 L2472.5,1303.6 L2479.3,1301.6 L2486.2,1299.5 L2493.1,1297.3 L2500.0,1295.0 L2506.9,1292.6 L2513.7,1290.1 L2520.6,1287.5 L2527.5,1284.9 L2534.4,1282.1 L2541.3,1279.2 L2548.1,1276.1 L2555.0,1273.0 L2561.9,1269.7 L2568.8,1266.4 L2575.7,1262.9 L2582.5,1259.2 L2589.4,1255.5 L2596.3,1251.6 L2603.2,1247.6 L2610.1,1243.4 L2616.9,1239.1 L2623.8,1234.7 L2630.7,1230.1 L2637.6,1225.3 L2644.5,1220.4 L2651.3,1215.4 L2658.2,1210.2 L2665.1,1204.8 L2672.0,1199.3 L2678.8,1193.6 L2685.7,1187.8 L2692.6,1181.8 L2699.5,1175.6 L2706.4,1169.3 L2713.2,1162.7 L2720.1,1156.1 L2727.0,1149.2 L2733.9,1142.1 L2740.8,1134.9 L2747.6,1127.5 L2754.5,1120.0 L2761.4,1112.2 L2768.3,1104.3 L2775.2,1096.1 L2782.0,1087.9 L2788.9,1079.4 L2795.8,1070.7 L2802.7,1061.9 L2809.6,1052.9 L2816.4,1043.7 L2823.3,1034.4 L2830.2,1024.8 L2837.1,1015.2 L2844.0,1005.3 L2850.8,995.3 L2857.7,985.1 L2864.6,974.8 L2871.5,964.4 L2878.4,953.8 L2885.2,943.1 L2892.1,932.2 L2899.0,921.3 L2905.9,910.2 L2912.8,899.0 L2919.6,887.7 L2926.5,876.4 L2933.4,865.0 L2940.3,853.4 L2947.2,841.9 L2954.0,830.2 L2960.9,818.5 L2967.8,806.8 L2974.7,795.0 L2981.5,783.2 L2988.4,771.3 L2995.3,759.4 L3002.2,747.4 L3009.1,735.4 L3015.9,723.4 L3022.8,711.3 L3029.7,699.2 L3036.6,687.1 L3043.5,674.9 L3050.3,662.6 L3057.2,650.3 L3064.1,638.0 L3071.0,625.5 L3077.9,613.0 L3084.7,600.4 L3091.6,587.7 L3098.5,575.0 L3105.4,562.1 L3112.3,549.2 L3119.1,536.3 L3126.0,523.4 L3132.9,510.5 L3139.8,497.7 L3146.7,485.0 L3153.5,472.4 L3160.4,460.1 L3167.3,447.9 L3174.2,435.9 L3181.1,424.2 L3187.9,412.7 L3194.8,401.4 L3201.7,390.3 L3208.6,379.4 L3215.5,368.8 L3222.3,358.3 L3229.2,348.0 L3236.1,337.8 L3243.0,327.9 L3249.8,318.1 L3256.7,308.4 L3263.6,299.0 L3270.5,289.6 L3277.4,280.5 L3284.2,271.4 L3291.1,262.6 L3298.0,253.9 L3304.9,245.3 L3311.8,237.0 L3318.6,228.8 L3325.5,220.9 L3332.4,213.1 L3339.3,205.6 L3346.2,198.3 L3353.0,191.2 L3359.9,184.3 L3366.8,177.6 L3373.7,171.2 L3380.6,165.0 L3387.4,159.0 L3394.3,153.2 L3401.2,147.6 L3408.1,142.2 L3415.0,137.0 L3421.8,132.0 L3428.7,127.1 L3435.6,122.4 L3442.5,117.9 L3449.4,113.5 L3456.2,109.3 L3463.1,105.2 L3470.0,101.3 L3476.9,97.6 L3483.8,94.0 L3490.6,90.6 L3497.5,87.3 L3504.4,84.2 L3511.3,81.2 L3518.1,78.4 L3525.0,75.7 L3531.9,73.2 L3538.8,70.8 L3545.7,68.6 L3552.5,66.4 L3559.4,64.4 L3566.3,62.5 L3573.2,60.7 L3580.1,59.1 L3586.9,57.5 L3593.8,56.0 L3600.7,54.7 L3607.6,53.4 L3614.5,52.2 L3621.3,51.1 L3628.2,50.0 L3635.1,49.1 L3642.0,48.1 L3648.9,47.3 L3655.7,46.5 L3662.6,45.8 L3669.5,45.1 L3676.4,44.4 L3683.3,43.8 L3690.1,43.2 L3697.0,42.7 L3703.9,42.2 L3710.8,41.7 L3717.7,41.3 L3724.5,40.9 L3731.4,40.5 L3738.3,40.1 L3745.2,39.7 L3752.1,39.4 L3758.9,39.1 L3765.8,38.8 L3772.7,38.5 L3779.6,38.2 L3786.4,37.9 L3793.3,37.6 L3800.2,37.4 L3807.1,37.1 L3814.0,36.9 L3820.8,36.6 L3827.7,36.4 L3834.6,36.2 L3841.5,35.9 L3848.4,35.7 L3855.2,35.5 L3862.1,35.3 L3869.0,35.1 L3875.9,34.9 L3882.8,34.7 L3889.6,34.5 L3896.5,34.4 L3903.4,34.2 L3910.3,34.1" fill="none" stroke="#0000d8" stroke-width="2.8"/>
<path d="M2265.1,1002.0 L2273.0,1002.0 L2279.8,1001.9 L2286.7,1001.8 L2293.6,1001.6 L2300.5,1001.5 L2307.4,1001.2 L2314.2,1001.0 L2321.1,1000.7 L2328.0,1000.4 L2334.9,1000.0 L2341.8,999.6 L2348.6,999.1 L2355.5,998.6 L2362.4,998.1 L2369.3,997.5 L2376.2,996.9 L2383.0,996.3 L2389.9,995.6 L2396.8,994.8 L2403.7,994.0 L2410.5,993.2 L2417.4,992.3 L2424.3,991.4 L2431.2,990.4 L2438.1,989.4 L2444.9,988.3 L2451.8,987.1 L2458.7,985.9 L2465.6,984.7 L2472.5,983.4 L2479.3,982.0 L2486.2,980.6 L2493.1,979.1 L2500.0,977.5 L2506.9,975.9 L2513.7,974.2 L2520.6,972.4 L2527.5,970.6 L2534.4,968.7 L2541.3,966.7 L2548.1,964.7 L2555.0,962.5 L2561.9,960.3 L2568.8,958.1 L2575.7,955.7 L2582.5,953.2 L2589.4,950.7 L2596.3,948.1 L2603.2,945.3 L2610.1,942.5 L2616.9,939.6 L2623.8,936.6 L2630.7,933.5 L2637.6,930.3 L2644.5,927.1 L2651.3,923.7 L2658.2,920.2 L2665.1,916.6 L2672.0,912.9 L2678.8,909.0 L2685.7,905.1 L2692.6,901.1 L2699.5,896.9 L2706.4,892.7 L2713.2,888.3 L2720.1,883.8 L2727.0,879.2 L2733.9,874.5 L2740.8,869.7 L2747.6,864.7 L2754.5,859.6 L2761.4,854.4 L2768.3,849.1 L2775.2,843.6 L2782.0,838.1 L2788.9,832.4 L2795.8,826.5 L2802.7,820.6 L2809.6,814.5 L2816.4,808.3 L2823.3,802.0 L2830.2,795.6 L2837.1,789.0 L2844.0,782.3 L2850.8,775.5 L2857.7,768.6 L2864.6,761.5 L2871.5,754.4 L2878.4,747.1 L2885.2,739.7 L2892.1,732.2 L2899.0,724.5 L2905.9,716.8 L2912.8,708.9 L2919.6,701.0 L2926.5,692.9 L2933.4,684.8 L2940.3,676.5 L2947.2,668.1 L2954.0,659.7 L2960.9,651.2 L2967.8,642.5 L2974.7,633.8 L2981.5,625.0 L2988.4,616.2 L2995.3,607.2 L3002.2,598.2 L3009.1,589.1 L3015.9,580.0 L3022.8,570.8 L3029.7,561.6 L3036.6,552.3 L3043.5,543.0 L3050.3,533.6 L3057.2,524.2 L3064.1,514.8 L3071.0,505.4 L3077.9,495.9 L3084.7,486.5 L3091.6,477.0 L3098.5,467.6 L3105.4,458.1 L3112.3,448.7 L3119.1,439.2 L3126.0,429.8 L3132.9,420.5 L3139.8,411.1 L3146.7,401.8 L3153.5,392.6 L3160.4,383.4 L3167.3,374.2 L3174.2,365.2 L3181.1,356.2 L3187.9,347.2 L3194.8,338.4 L3201.7,329.6 L3208.6,320.9 L3215.5,312.4 L3222.3,303.9 L3229.2,295.5 L3236.1,287.3 L3243.0,279.1 L3249.8,271.1 L3256.7,263.2 L3263.6,255.4 L3270.5,247.8 L3277.4,240.3 L3284.2,232.9 L3291.1,225.7 L3298.0,218.7 L3304.9,211.7 L3311.8,205.0 L3318.6,198.3 L3325.5,191.9 L3332.4,185.6 L3339.3,179.4 L3346.2,173.5 L3353.0,167.6 L3359.9,162.0 L3366.8,156.5 L3373.7,151.1 L3380.6,145.9 L3387.4,140.9 L3394.3,136.0 L3401.2,131.3 L3408.1,126.8 L3415.0,122.4 L3421.8,118.2 L3428.7,114.1 L3435.6,110.1 L3442.5,106.3 L3449.4,102.7 L3456.2,99.2 L3463.1,95.8 L3470.0,92.6 L3476.9,89.5 L3483.8,86.6 L3490.6,83.7 L3497.5,81.0 L3504.4,78.4 L3511.3,76.0 L3518.1,73.6 L3525.0,71.4 L3531.9,69.2 L3538.8,67.2 L3545.7,65.3 L3552.5,63.4 L3559.4,61.7 L3566.3,60.0 L3573.2,58.5 L3580.1,57.0 L3586.9,55.6 L3593.8,54.2 L3600.7,53.0 L3607.6,51.8 L3614.5,50.7 L3621.3,49.6 L3628.2,48.6 L3635.1,47.7 L3642.0,46.8 L3648.9,46.0 L3655.7,45.2 L3662.6,44.4 L3669.5,43.8 L3676.4,43.1 L3683.3,42.5 L3690.1,41.9 L3697.0,41.4 L3703.9,40.9 L3710.8,40.4 L3717.7,40.0 L3724.5,39.6 L3731.4,39.2 L3738.3,38.8 L3745.2,38.5 L3752.1,38.1 L3758.9,37.9 L3765.8,37.6 L3772.7,37.3 L3779.6,37.1 L3786.4,36.9 L3793.3,36.6 L3800.2,36.4 L3807.1,36.3 L3814.0,36.1 L3820.8,35.9 L3827.7,35.8 L3834.6,35.6 L3841.5,35.5 L3848.4,35.4 L3855.2,35.3 L3862.1,35.2 L3869.0,35.1 L3875.9,35.0 L3882.8,34.9 L3889.6,34.8 L3896.5,34.8 L3903.4,34.7 L3910.3,34.6" fill="none" stroke="#0f870f" stroke-width="2.8" stroke-dasharray="4.4 4.7"/>
<path d="M2265.1,1329.9 L2273.0,1329.8 L2279.8,1329.6 L2286.7,1329.4 L2293.6,1329.2 L2300.5,1328.8 L2307.4,1328.5 L2314.2,1328.0 L2321.1,1327.6 L2328.0,1327.1 L2334.9,1326.5 L2341.8,1325.8 L2348.6,1325.2 L2355.5,1324.4 L2362.4,1323.6 L2369.3,1322.8 L2376.2,1321.9 L2383.0,1320.9 L2389.9,1319.9 L2396.8,1318.8 L2403.7,1317.6 L2410.5,1316.4 L2417.4,1315.1 L2424.3,1313.7 L2431.2,1312.3 L2438.1,1310.7 L2444.9,1309.2 L2451.8,1307.5 L2458.7,1305.7 L2465.6,1303.9 L2472.5,1302.0 L2479.3,1300.0 L2486.2,1297.9 L2493.1,1295.7 L2500.0,1293.4 L2506.9,1291.0 L2513.7,1288.6 L2520.6,1286.0 L2527.5,1283.3 L2534.4,1280.5 L2541.3,1277.6 L2548.1,1274.6 L2555.0,1271.5 L2561.9,1268.2 L2568.8,1264.8 L2575.7,1261.3 L2582.5,1257.7 L2589.4,1254.0 L2596.3,1250.1 L2603.2,1246.1 L2610.1,1241.9 L2616.9,1237.6 L2623.8,1233.2 L2630.7,1228.6 L2637.6,1223.8 L2644.5,1219.0 L2651.3,1213.9 L2658.2,1208.7 L2665.1,1203.4 L2672.0,1197.9 L2678.8,1192.2 L2685.7,1186.4 L2692.6,1180.4 L2699.5,1174.2 L2706.4,1167.9 L2713.2,1161.3 L2720.1,1154.7 L2727.0,1147.8 L2733.9,1140.8 L2740.8,1133.6 L2747.6,1126.2 L2754.5,1118.6 L2761.4,1110.9 L2768.3,1102.9 L2775.2,1094.8 L2782.0,1086.5 L2788.9,1078.1 L2795.8,1069.4 L2802.7,1060.6 L2809.6,1051.6 L2816.4,1042.5 L2823.3,1033.1 L2830.2,1023.6 L2837.1,1013.9 L2844.0,1004.1 L2850.8,994.1 L2857.7,984.0 L2864.6,973.7 L2871.5,963.2 L2878.4,952.7 L2885.2,941.9 L2892.1,931.1 L2899.0,920.2 L2905.9,909.1 L2912.8,897.9 L2919.6,886.7 L2926.5,875.3 L2933.4,863.9 L2940.3,852.4 L2947.2,840.9 L2954.0,829.2 L2960.9,817.6 L2967.8,805.8 L2974.7,794.0 L2981.5,782.2 L2988.4,770.4 L2995.3,758.5 L3002.2,746.5 L3009.1,734.6 L3015.9,722.6 L3022.8,710.5 L3029.7,698.4 L3036.6,686.3 L3043.5,674.1 L3050.3,661.9 L3057.2,649.6 L3064.1,637.2 L3071.0,624.8 L3077.9,612.3 L3084.7,599.7 L3091.6,587.0 L3098.5,574.3 L3105.4,561.5 L3112.3,548.6 L3119.1,535.7 L3126.0,522.8 L3132.9,509.9 L3139.8,497.1 L3146.7,484.4 L3153.5,471.9 L3160.4,459.5 L3167.3,447.4 L3174.2,435.4 L3181.1,423.7 L3187.9,412.2 L3194.8,400.9 L3201.7,389.9 L3208.6,379.0 L3215.5,368.3 L3222.3,357.9 L3229.2,347.6 L3236.1,337.5 L3243.0,327.5 L3249.8,317.7 L3256.7,308.1 L3263.6,298.6 L3270.5,289.3 L3277.4,280.1 L3284.2,271.1 L3291.1,262.3 L3298.0,253.6 L3304.9,245.1 L3311.8,236.7 L3318.6,228.6 L3325.5,220.6 L3332.4,212.9 L3339.3,205.4 L3346.2,198.0 L3353.0,191.0 L3359.9,184.1 L3366.8,177.5 L3373.7,171.0 L3380.6,164.8 L3387.4,158.9 L3394.3,153.1 L3401.2,147.5 L3408.1,142.1 L3415.0,136.9 L3421.8,131.8 L3428.7,127.0 L3435.6,122.3 L3442.5,117.7 L3449.4,113.4 L3456.2,109.2 L3463.1,105.1 L3470.0,101.2 L3476.9,97.5 L3483.8,93.9 L3490.6,90.5 L3497.5,87.2 L3504.4,84.1 L3511.3,81.2 L3518.1,78.4 L3525.0,75.7 L3531.9,73.2 L3538.8,70.8 L3545.7,68.5 L3552.5,66.4 L3559.4,64.4 L3566.3,62.5 L3573.2,60.7 L3580.1,59.0 L3586.9,57.5 L3593.8,56.0 L3600.7,54.7 L3607.6,53.4 L3614.5,52.2 L3621.3,51.1 L3628.2,50.0 L3635.1,49.0 L3642.0,48.1 L3648.9,47.3 L3655.7,46.5 L3662.6,45.7 L3669.5,45.0 L3676.4,44.4 L3683.3,43.8 L3690.1,43.2 L3697.0,42.7 L3703.9,42.2 L3710.8,41.7 L3717.7,41.3 L3724.5,40.9 L3731.4,40.5 L3738.3,40.1 L3745.2,39.7 L3752.1,39.4 L3758.9,39.1 L3765.8,38.8 L3772.7,38.5 L3779.6,38.2 L3786.4,37.9 L3793.3,37.6 L3800.2,37.4 L3807.1,37.1 L3814.0,36.9 L3820.8,36.6 L3827.7,36.4 L3834.6,36.2 L3841.5,35.9 L3848.4,35.7 L3855.2,35.5 L3862.1,35.3 L3869.0,35.1 L3875.9,34.9 L3882.8,34.7 L3889.6,34.5 L3896.5,34.4 L3903.4,34.2 L3910.3,34.1" fill="none" stroke="#0f870f" stroke-width="2.8" stroke-dasharray="4.4 4.7"/>
<path d="M2265.1,1000.6 L2273.0,1000.5 L2279.8,1000.4 L2286.7,1000.3 L2293.6,1000.2 L2300.5,1000.0 L2307.4,999.8 L2314.2,999.5 L2321.1,999.2 L2328.0,998.9 L2334.9,998.5 L2341.8,998.1 L2348.6,997.6 L2355.5,997.2 L2362.4,996.6 L2369.3,996.1 L2376.2,995.5 L2383.0,994.8 L2389.9,994.1 L2396.8,993.4 L2403.7,992.6 L2410.5,991.7 L2417.4,990.8 L2424.3,989.9 L2431.2,988.9 L2438.1,987.9 L2444.9,986.8 L2451.8,985.7 L2458.7,984.5 L2465.6,983.2 L2472.5,981.9 L2479.3,980.6 L2486.2,979.1 L2493.1,977.6 L2500.0,976.1 L2506.9,974.4 L2513.7,972.8 L2520.6,971.0 L2527.5,969.2 L2534.4,967.3 L2541.3,965.3 L2548.1,963.3 L2555.0,961.1 L2561.9,958.9 L2568.8,956.6 L2575.7,954.3 L2582.5,951.8 L2589.4,949.3 L2596.3,946.7 L2603.2,943.9 L2610.1,941.1 L2616.9,938.2 L2623.8,935.2 L2630.7,932.2 L2637.6,929.0 L2644.5,925.7 L2651.3,922.3 L2658.2,918.8 L2665.1,915.2 L2672.0,911.5 L2678.8,907.7 L2685.7,903.8 L2692.6,899.8 L2699.5,895.6 L2706.4,891.4 L2713.2,887.0 L2720.1,882.5 L2727.0,877.9 L2733.9,873.2 L2740.8,868.4 L2747.6,863.4 L2754.5,858.3 L2761.4,853.2 L2768.3,847.8 L2775.2,842.4 L2782.0,836.8 L2788.9,831.1 L2795.8,825.3 L2802.7,819.4 L2809.6,813.3 L2816.4,807.1 L2823.3,800.8 L2830.2,794.4 L2837.1,787.9 L2844.0,781.2 L2850.8,774.4 L2857.7,767.5 L2864.6,760.4 L2871.5,753.3 L2878.4,746.0 L2885.2,738.6 L2892.1,731.1 L2899.0,723.5 L2905.9,715.7 L2912.8,707.9 L2919.6,700.0 L2926.5,691.9 L2933.4,683.8 L2940.3,675.5 L2947.2,667.2 L2954.0,658.7 L2960.9,650.2 L2967.8,641.6 L2974.7,632.9 L2981.5,624.1 L2988.4,615.3 L2995.3,606.3 L3002.2,597.4 L3009.1,588.3 L3015.9,579.2 L3022.8,570.0 L3029.7,560.8 L3036.6,551.5 L3043.5,542.2 L3050.3,532.9 L3057.2,523.5 L3064.1,514.1 L3071.0,504.7 L3077.9,495.2 L3084.7,485.8 L3091.6,476.3 L3098.5,466.9 L3105.4,457.5 L3112.3,448.0 L3119.1,438.6 L3126.0,429.2 L3132.9,419.9 L3139.8,410.5 L3146.7,401.3 L3153.5,392.0 L3160.4,382.8 L3167.3,373.7 L3174.2,364.7 L3181.1,355.7 L3187.9,346.7 L3194.8,337.9 L3201.7,329.2 L3208.6,320.5 L3215.5,311.9 L3222.3,303.5 L3229.2,295.1 L3236.1,286.9 L3243.0,278.7 L3249.8,270.7 L3256.7,262.8 L3263.6,255.1 L3270.5,247.5 L3277.4,240.0 L3284.2,232.6 L3291.1,225.4 L3298.0,218.4 L3304.9,211.5 L3311.8,204.7 L3318.6,198.1 L3325.5,191.6 L3332.4,185.4 L3339.3,179.2 L3346.2,173.2 L3353.0,167.4 L3359.9,161.8 L3366.8,156.3 L3373.7,150.9 L3380.6,145.8 L3387.4,140.7 L3394.3,135.9 L3401.2,131.2 L3408.1,126.6 L3415.0,122.3 L3421.8,118.0 L3428.7,113.9 L3435.6,110.0 L3442.5,106.2 L3449.4,102.6 L3456.2,99.1 L3463.1,95.7 L3470.0,92.5 L3476.9,89.4 L3483.8,86.5 L3490.6,83.6 L3497.5,80.9 L3504.4,78.4 L3511.3,75.9 L3518.1,73.5 L3525.0,71.3 L3531.9,69.2 L3538.8,67.1 L3545.7,65.2 L3552.5,63.4 L3559.4,61.6 L3566.3,60.0 L3573.2,58.4 L3580.1,56.9 L3586.9,55.5 L3593.8,54.2 L3600.7,53.0 L3607.6,51.8 L3614.5,50.7 L3621.3,49.6 L3628.2,48.6 L3635.1,47.7 L3642.0,46.8 L3648.9,45.9 L3655.7,45.2 L3662.6,44.4 L3669.5,43.7 L3676.4,43.1 L3683.3,42.5 L3690.1,41.9 L3697.0,41.4 L3703.9,40.9 L3710.8,40.4 L3717.7,40.0 L3724.5,39.5 L3731.4,39.2 L3738.3,38.8 L3745.2,38.5 L3752.1,38.1 L3758.9,37.8 L3765.8,37.6 L3772.7,37.3 L3779.6,37.1 L3786.4,36.8 L3793.3,36.6 L3800.2,36.4 L3807.1,36.3 L3814.0,36.1 L3820.8,35.9 L3827.7,35.8 L3834.6,35.6 L3841.5,35.5 L3848.4,35.4 L3855.2,35.3 L3862.1,35.2 L3869.0,35.1 L3875.9,35.0 L3882.8,34.9 L3889.6,34.8 L3896.5,34.8 L3903.4,34.7 L3910.3,34.6" fill="none" stroke="#ff7f00" stroke-width="2.8" stroke-dasharray="9 10.2"/>
<path d="M2265.1,1328.3 L2273.0,1328.2 L2279.8,1328.0 L2286.7,1327.8 L2293.6,1327.5 L2300.5,1327.2 L2307.4,1326.9 L2314.2,1326.4 L2321.1,1326.0 L2328.0,1325.4 L2334.9,1324.9 L2341.8,1324.2 L2348.6,1323.6 L2355.5,1322.8 L2362.4,1322.0 L2369.3,1321.2 L2376.2,1320.3 L2383.0,1319.3 L2389.9,1318.3 L2396.8,1317.2 L2403.7,1316.0 L2410.5,1314.8 L2417.4,1313.5 L2424.3,1312.1 L2431.2,1310.7 L2438.1,1309.1 L2444.9,1307.6 L2451.8,1305.9 L2458.7,1304.1 L2465.6,1302.3 L2472.5,1300.4 L2479.3,1298.4 L2486.2,1296.3 L2493.1,1294.1 L2500.0,1291.8 L2506.9,1289.5 L2513.7,1287.0 L2520.6,1284.4 L2527.5,1281.7 L2534.4,1278.9 L2541.3,1276.0 L2548.1,1273.0 L2555.0,1269.9 L2561.9,1266.7 L2568.8,1263.3 L2575.7,1259.8 L2582.5,1256.2 L2589.4,1252.4 L2596.3,1248.6 L2603.2,1244.5 L2610.1,1240.4 L2616.9,1236.1 L2623.8,1231.7 L2630.7,1227.1 L2637.6,1222.4 L2644.5,1217.5 L2651.3,1212.5 L2658.2,1207.3 L2665.1,1201.9 L2672.0,1196.4 L2678.8,1190.8 L2685.7,1184.9 L2692.6,1178.9 L2699.5,1172.8 L2706.4,1166.4 L2713.2,1159.9 L2720.1,1153.3 L2727.0,1146.4 L2733.9,1139.4 L2740.8,1132.2 L2747.6,1124.8 L2754.5,1117.2 L2761.4,1109.5 L2768.3,1101.6 L2775.2,1093.5 L2782.0,1085.2 L2788.9,1076.8 L2795.8,1068.1 L2802.7,1059.3 L2809.6,1050.4 L2816.4,1041.2 L2823.3,1031.9 L2830.2,1022.4 L2837.1,1012.7 L2844.0,1002.9 L2850.8,992.9 L2857.7,982.8 L2864.6,972.5 L2871.5,962.1 L2878.4,951.5 L2885.2,940.8 L2892.1,930.0 L2899.0,919.1 L2905.9,908.0 L2912.8,896.9 L2919.6,885.6 L2926.5,874.3 L2933.4,862.9 L2940.3,851.4 L2947.2,839.8 L2954.0,828.2 L2960.9,816.6 L2967.8,804.9 L2974.7,793.1 L2981.5,781.3 L2988.4,769.4 L2995.3,757.6 L3002.2,745.6 L3009.1,733.7 L3015.9,721.7 L3022.8,709.7 L3029.7,697.6 L3036.6,685.5 L3043.5,673.3 L3050.3,661.1 L3057.2,648.8 L3064.1,636.5 L3071.0,624.0 L3077.9,611.6 L3084.7,599.0 L3091.6,586.3 L3098.5,573.6 L3105.4,560.8 L3112.3,547.9 L3119.1,535.0 L3126.0,522.2 L3132.9,509.3 L3139.8,496.5 L3146.7,483.9 L3153.5,471.3 L3160.4,459.0 L3167.3,446.9 L3174.2,434.9 L3181.1,423.2 L3187.9,411.7 L3194.8,400.5 L3201.7,389.4 L3208.6,378.6 L3215.5,367.9 L3222.3,357.5 L3229.2,347.2 L3236.1,337.1 L3243.0,327.1 L3249.8,317.4 L3256.7,307.8 L3263.6,298.3 L3270.5,289.0 L3277.4,279.8 L3284.2,270.8 L3291.1,262.0 L3298.0,253.3 L3304.9,244.8 L3311.8,236.5 L3318.6,228.3 L3325.5,220.4 L3332.4,212.7 L3339.3,205.1 L3346.2,197.8 L3353.0,190.8 L3359.9,183.9 L3366.8,177.3 L3373.7,170.9 L3380.6,164.7 L3387.4,158.7 L3394.3,152.9 L3401.2,147.3 L3408.1,142.0 L3415.0,136.8 L3421.8,131.7 L3428.7,126.9 L3435.6,122.2 L3442.5,117.6 L3449.4,113.3 L3456.2,109.1 L3463.1,105.0 L3470.0,101.1 L3476.9,97.4 L3483.8,93.8 L3490.6,90.4 L3497.5,87.2 L3504.4,84.1 L3511.3,81.1 L3518.1,78.3 L3525.0,75.6 L3531.9,73.1 L3538.8,70.7 L3545.7,68.5 L3552.5,66.3 L3559.4,64.3 L3566.3,62.4 L3573.2,60.7 L3580.1,59.0 L3586.9,57.5 L3593.8,56.0 L3600.7,54.6 L3607.6,53.3 L3614.5,52.1 L3621.3,51.0 L3628.2,50.0 L3635.1,49.0 L3642.0,48.1 L3648.9,47.3 L3655.7,46.5 L3662.6,45.7 L3669.5,45.0 L3676.4,44.4 L3683.3,43.8 L3690.1,43.2 L3697.0,42.7 L3703.9,42.2 L3710.8,41.7 L3717.7,41.3 L3724.5,40.8 L3731.4,40.4 L3738.3,40.1 L3745.2,39.7 L3752.1,39.4 L3758.9,39.1 L3765.8,38.7 L3772.7,38.5 L3779.6,38.2 L3786.4,37.9 L3793.3,37.6 L3800.2,37.4 L3807.1,37.1 L3814.0,36.9 L3820.8,36.6 L3827.7,36.4 L3834.6,36.2 L3841.5,35.9 L3848.4,35.7 L3855.2,35.5 L3862.1,35.3 L3869.0,35.1 L3875.9,34.9 L3882.8,34.7 L3889.6,34.5 L3896.5,34.4 L3903.4,34.2 L3910.3,34.1" fill="none" stroke="#ff7f00" stroke-width="2.8" stroke-dasharray="9 10.2"/>
<path d="M2265.1,990.2 L2273.0,990.1 L2279.8,990.1 L2286.7,990.0 L2293.6,989.8 L2300.5,989.6 L2307.4,989.4 L2314.2,989.2 L2321.1,988.9 L2328.0,988.5 L2334.9,988.2 L2341.8,987.8 L2348.6,987.3 L2355.5,986.8 L2362.4,986.3 L2369.3,985.7 L2376.2,985.1 L2383.0,984.5 L2389.9,983.8 L2396.8,983.1 L2403.7,982.3 L2410.5,981.5 L2417.4,980.6 L2424.3,979.7 L2431.2,978.7 L2438.1,977.7 L2444.9,976.6 L2451.8,975.5 L2458.7,974.3 L2465.6,973.1 L2472.5,971.8 L2479.3,970.4 L2486.2,969.0 L2493.1,967.5 L2500.0,966.0 L2506.9,964.4 L2513.7,962.7 L2520.6,961.0 L2527.5,959.2 L2534.4,957.3 L2541.3,955.3 L2548.1,953.3 L2555.0,951.2 L2561.9,949.0 L2568.8,946.7 L2575.7,944.4 L2582.5,942.0 L2589.4,939.5 L2596.3,936.9 L2603.2,934.2 L2610.1,931.4 L2616.9,928.5 L2623.8,925.6 L2630.7,922.5 L2637.6,919.4 L2644.5,916.1 L2651.3,912.8 L2658.2,909.3 L2665.1,905.8 L2672.0,902.1 L2678.8,898.3 L2685.7,894.5 L2692.6,890.5 L2699.5,886.4 L2706.4,882.2 L2713.2,877.9 L2720.1,873.4 L2727.0,868.9 L2733.9,864.2 L2740.8,859.4 L2747.6,854.5 L2754.5,849.5 L2761.4,844.4 L2768.3,839.1 L2775.2,833.7 L2782.0,828.2 L2788.9,822.6 L2795.8,816.8 L2802.7,811.0 L2809.6,805.0 L2816.4,798.9 L2823.3,792.6 L2830.2,786.3 L2837.1,779.8 L2844.0,773.2 L2850.8,766.4 L2857.7,759.6 L2864.6,752.6 L2871.5,745.6 L2878.4,738.4 L2885.2,731.0 L2892.1,723.6 L2899.0,716.1 L2905.9,708.4 L2912.8,700.7 L2919.6,692.8 L2926.5,684.9 L2933.4,676.8 L2940.3,668.6 L2947.2,660.4 L2954.0,652.0 L2960.9,643.6 L2967.8,635.1 L2974.7,626.5 L2981.5,617.8 L2988.4,609.0 L2995.3,600.2 L3002.2,591.3 L3009.1,582.3 L3015.9,573.3 L3022.8,564.3 L3029.7,555.1 L3036.6,546.0 L3043.5,536.8 L3050.3,527.5 L3057.2,518.2 L3064.1,508.9 L3071.0,499.6 L3077.9,490.3 L3084.7,480.9 L3091.6,471.6 L3098.5,462.2 L3105.4,452.9 L3112.3,443.6 L3119.1,434.3 L3126.0,425.0 L3132.9,415.7 L3139.8,406.5 L3146.7,397.3 L3153.5,388.2 L3160.4,379.1 L3167.3,370.1 L3174.2,361.1 L3181.1,352.2 L3187.9,343.4 L3194.8,334.6 L3201.7,326.0 L3208.6,317.4 L3215.5,308.9 L3222.3,300.6 L3229.2,292.3 L3236.1,284.1 L3243.0,276.1 L3249.8,268.2 L3256.7,260.4 L3263.6,252.7 L3270.5,245.2 L3277.4,237.8 L3284.2,230.5 L3291.1,223.4 L3298.0,216.4 L3304.9,209.6 L3311.8,202.9 L3318.6,196.3 L3325.5,189.9 L3332.4,183.7 L3339.3,177.7 L3346.2,171.7 L3353.0,166.0 L3359.9,160.4 L3366.8,154.9 L3373.7,149.7 L3380.6,144.5 L3387.4,139.6 L3394.3,134.8 L3401.2,130.1 L3408.1,125.6 L3415.0,121.3 L3421.8,117.1 L3428.7,113.1 L3435.6,109.2 L3442.5,105.4 L3449.4,101.8 L3456.2,98.4 L3463.1,95.1 L3470.0,91.9 L3476.9,88.8 L3483.8,85.9 L3490.6,83.1 L3497.5,80.4 L3504.4,77.9 L3511.3,75.4 L3518.1,73.1 L3525.0,70.9 L3531.9,68.8 L3538.8,66.8 L3545.7,64.9 L3552.5,63.1 L3559.4,61.3 L3566.3,59.7 L3573.2,58.2 L3580.1,56.7 L3586.9,55.3 L3593.8,54.0 L3600.7,52.7 L3607.6,51.6 L3614.5,50.5 L3621.3,49.4 L3628.2,48.4 L3635.1,47.5 L3642.0,46.6 L3648.9,45.8 L3655.7,45.0 L3662.6,44.3 L3669.5,43.6 L3676.4,43.0 L3683.3,42.4 L3690.1,41.8 L3697.0,41.3 L3703.9,40.8 L3710.8,40.3 L3717.7,39.9 L3724.5,39.5 L3731.4,39.1 L3738.3,38.7 L3745.2,38.4 L3752.1,38.1 L3758.9,37.8 L3765.8,37.5 L3772.7,37.3 L3779.6,37.0 L3786.4,36.8 L3793.3,36.6 L3800.2,36.4 L3807.1,36.2 L3814.0,36.1 L3820.8,35.9 L3827.7,35.8 L3834.6,35.6 L3841.5,35.5 L3848.4,35.4 L3855.2,35.3 L3862.1,35.2 L3869.0,35.1 L3875.9,35.0 L3882.8,34.9 L3889.6,34.8 L3896.5,34.8 L3903.4,34.7 L3910.3,34.6" fill="none" stroke="#000" stroke-width="2.3"/>
<path d="M2265.1,1317.0 L2273.0,1316.9 L2279.8,1316.7 L2286.7,1316.5 L2293.6,1316.2 L2300.5,1315.9 L2307.4,1315.5 L2314.2,1315.1 L2321.1,1314.7 L2328.0,1314.1 L2334.9,1313.6 L2341.8,1313.0 L2348.6,1312.3 L2355.5,1311.5 L2362.4,1310.8 L2369.3,1309.9 L2376.2,1309.0 L2383.0,1308.0 L2389.9,1307.0 L2396.8,1305.9 L2403.7,1304.8 L2410.5,1303.6 L2417.4,1302.3 L2424.3,1300.9 L2431.2,1299.5 L2438.1,1298.0 L2444.9,1296.4 L2451.8,1294.8 L2458.7,1293.0 L2465.6,1291.2 L2472.5,1289.3 L2479.3,1287.3 L2486.2,1285.3 L2493.1,1283.1 L2500.0,1280.8 L2506.9,1278.5 L2513.7,1276.0 L2520.6,1273.5 L2527.5,1270.8 L2534.4,1268.1 L2541.3,1265.2 L2548.1,1262.2 L2555.0,1259.1 L2561.9,1255.9 L2568.8,1252.5 L2575.7,1249.1 L2582.5,1245.5 L2589.4,1241.8 L2596.3,1237.9 L2603.2,1234.0 L2610.1,1229.8 L2616.9,1225.6 L2623.8,1221.2 L2630.7,1216.7 L2637.6,1212.0 L2644.5,1207.1 L2651.3,1202.2 L2658.2,1197.0 L2665.1,1191.7 L2672.0,1186.3 L2678.8,1180.6 L2685.7,1174.9 L2692.6,1168.9 L2699.5,1162.8 L2706.4,1156.5 L2713.2,1150.1 L2720.1,1143.5 L2727.0,1136.7 L2733.9,1129.7 L2740.8,1122.6 L2747.6,1115.3 L2754.5,1107.8 L2761.4,1100.1 L2768.3,1092.3 L2775.2,1084.2 L2782.0,1076.0 L2788.9,1067.7 L2795.8,1059.1 L2802.7,1050.4 L2809.6,1041.5 L2816.4,1032.4 L2823.3,1023.1 L2830.2,1013.7 L2837.1,1004.2 L2844.0,994.4 L2850.8,984.5 L2857.7,974.5 L2864.6,964.3 L2871.5,954.0 L2878.4,943.5 L2885.2,932.9 L2892.1,922.2 L2899.0,911.3 L2905.9,900.4 L2912.8,889.3 L2919.6,878.2 L2926.5,866.9 L2933.4,855.6 L2940.3,844.2 L2947.2,832.8 L2954.0,821.3 L2960.9,809.7 L2967.8,798.1 L2974.7,786.5 L2981.5,774.8 L2988.4,763.0 L2995.3,751.2 L3002.2,739.4 L3009.1,727.6 L3015.9,715.7 L3022.8,703.7 L3029.7,691.8 L3036.6,679.8 L3043.5,667.7 L3050.3,655.6 L3057.2,643.4 L3064.1,631.2 L3071.0,618.9 L3077.9,606.5 L3084.7,594.1 L3091.6,581.5 L3098.5,568.9 L3105.4,556.2 L3112.3,543.4 L3119.1,530.7 L3126.0,517.9 L3132.9,505.1 L3139.8,492.5 L3146.7,479.9 L3153.5,467.5 L3160.4,455.3 L3167.3,443.3 L3174.2,431.4 L3181.1,419.8 L3187.9,408.4 L3194.8,397.3 L3201.7,386.3 L3208.6,375.5 L3215.5,365.0 L3222.3,354.6 L3229.2,344.4 L3236.1,334.4 L3243.0,324.6 L3249.8,314.9 L3256.7,305.4 L3263.6,296.0 L3270.5,286.8 L3277.4,277.7 L3284.2,268.8 L3291.1,260.0 L3298.0,251.4 L3304.9,243.0 L3311.8,234.7 L3318.6,226.6 L3325.5,218.8 L3332.4,211.1 L3339.3,203.6 L3346.2,196.4 L3353.0,189.4 L3359.9,182.6 L3366.8,176.0 L3373.7,169.7 L3380.6,163.5 L3387.4,157.6 L3394.3,151.9 L3401.2,146.3 L3408.1,141.0 L3415.0,135.8 L3421.8,130.9 L3428.7,126.0 L3435.6,121.4 L3442.5,116.9 L3449.4,112.6 L3456.2,108.4 L3463.1,104.4 L3470.0,100.5 L3476.9,96.9 L3483.8,93.3 L3490.6,89.9 L3497.5,86.7 L3504.4,83.6 L3511.3,80.7 L3518.1,77.9 L3525.0,75.3 L3531.9,72.8 L3538.8,70.4 L3545.7,68.2 L3552.5,66.0 L3559.4,64.1 L3566.3,62.2 L3573.2,60.4 L3580.1,58.8 L3586.9,57.2 L3593.8,55.8 L3600.7,54.4 L3607.6,53.2 L3614.5,52.0 L3621.3,50.9 L3628.2,49.8 L3635.1,48.9 L3642.0,48.0 L3648.9,47.1 L3655.7,46.3 L3662.6,45.6 L3669.5,44.9 L3676.4,44.3 L3683.3,43.7 L3690.1,43.1 L3697.0,42.6 L3703.9,42.1 L3710.8,41.6 L3717.7,41.2 L3724.5,40.8 L3731.4,40.4 L3738.3,40.0 L3745.2,39.7 L3752.1,39.3 L3758.9,39.0 L3765.8,38.7 L3772.7,38.4 L3779.6,38.1 L3786.4,37.8 L3793.3,37.6 L3800.2,37.3 L3807.1,37.1 L3814.0,36.8 L3820.8,36.6 L3827.7,36.4 L3834.6,36.1 L3841.5,35.9 L3848.4,35.7 L3855.2,35.5 L3862.1,35.3 L3869.0,35.1 L3875.9,34.9 L3882.8,34.7 L3889.6,34.5 L3896.5,34.4 L3903.4,34.2 L3910.3,34.1" fill="none" stroke="#000" stroke-width="2.3"/>
<text transform="translate(2245.16,1556.90) scale(0.9098,1)" font-size="55.50">0</text>
<text transform="translate(2520.34,1556.90) scale(0.9098,1)" font-size="55.50">2</text>
<text transform="translate(2795.68,1556.90) scale(0.9098,1)" font-size="55.50">4</text>
<text transform="translate(3070.53,1556.90) scale(0.9098,1)" font-size="55.50">6</text>
<text transform="translate(3345.88,1556.90) scale(0.9098,1)" font-size="55.50">8</text>
<text transform="translate(3606.08,1556.90) scale(0.9098,1)" font-size="55.50">10</text>
<text transform="translate(3881.54,1556.90) scale(0.9098,1)" font-size="55.50">12</text>
<text transform="translate(2203.89,48.40) scale(0.9098,1)" font-size="55.50">0</text>
<text transform="translate(2158.99,229.85) scale(0.9098,1)" font-size="55.50">-50</text>
<text transform="translate(2130.91,411.30) scale(0.9098,1)" font-size="55.50">-100</text>
<text transform="translate(2130.91,592.75) scale(0.9098,1)" font-size="55.50">-150</text>
<text transform="translate(2130.91,774.20) scale(0.9098,1)" font-size="55.50">-200</text>
<text transform="translate(2130.91,955.65) scale(0.9098,1)" font-size="55.50">-250</text>
<text transform="translate(2130.91,1137.10) scale(0.9098,1)" font-size="55.50">-300</text>
<text transform="translate(2130.91,1318.55) scale(0.9098,1)" font-size="55.50">-350</text>
<text transform="translate(2130.91,1500.00) scale(0.9098,1)" font-size="55.50">-400</text>
<text transform="translate(2320.50,151.00) scale(0.9498,1)" font-size="68.61">b)</text>
<text transform="translate(2409.62,114.30) scale(0.9502,1)" font-size="38.66">7</text>
<text transform="translate(2429.54,151.00) scale(0.8999,1)" font-size="68.61">Li+</text>
<text transform="translate(2514.72,114.30) scale(0.9092,1)" font-size="38.66">120</text>
<text transform="translate(2573.51,151.00) scale(0.8946,1)" font-size="68.61">Sn</text>
<text transform="translate(2359.96,757.10) scale(0.8953,1)" font-size="68.61">DF CDM3Y6-RT</text>
<text transform="translate(2726.96,1297.40) scale(0.8951,1)" font-size="68.61">DF CDM3Y6</text>
<text transform="translate(2979.37,1636.00) scale(0.9124,1)" font-size="68.61">R, (fm)</text>
<text transform="translate(2069.90,906.29) rotate(-90) scale(0.9913,1)" font-size="67.58">V, (MeV)</text>
<path d="M3432.3,825.50H3570.5" fill="none" stroke="#ff7f00" stroke-width="4.5"/>
<text transform="translate(3585.99,847.90) scale(0.9021,1)" font-size="68.61">20 MeV</text>
<path d="M3432.3,907.10H3570.5" fill="none" stroke="#0000ff" stroke-width="4.5" stroke-dasharray="17.9 8.4 4.6 8.8"/>
<text transform="translate(3585.99,929.50) scale(0.9021,1)" font-size="68.61">22 MeV</text>
<path d="M3432.3,988.70H3570.5" fill="none" stroke="#000" stroke-width="4.2" stroke-dasharray="4.2 14.8"/>
<text transform="translate(3585.99,1011.10) scale(0.9021,1)" font-size="68.61">24 MeV</text>
<path d="M3432.3,1070.30H3570.5" fill="none" stroke="#0000d8" stroke-width="2.8"/>
<text transform="translate(3585.99,1092.70) scale(0.9021,1)" font-size="68.61">26 MeV</text>
<path d="M3432.3,1151.90H3570.5" fill="none" stroke="#0f870f" stroke-width="2.8" stroke-dasharray="4.4 4.7"/>
<text transform="translate(3585.99,1174.30) scale(0.9021,1)" font-size="68.61">28 MeV</text>
<path d="M3432.3,1233.50H3570.5" fill="none" stroke="#ff7f00" stroke-width="2.8" stroke-dasharray="9 10.2"/>
<text transform="translate(3585.99,1255.90) scale(0.9021,1)" font-size="68.61">30 MeV</text>
<path d="M3432.3,1315.10H3570.5" fill="none" stroke="#000" stroke-width="2.9"/>
<text transform="translate(3585.99,1337.50) scale(0.9021,1)" font-size="68.61">44 MeV</text>
<path d="M2607.5,788.8L2623.1,850.8" stroke="#000" stroke-width="3.1" fill="none"/>
<path d="M2631.7,885.2L2615.0,852.8L2631.1,848.7Z" fill="#000"/>
<path d="M2793.6,1235.1L2772.9,1178.3" stroke="#000" stroke-width="3.1" fill="none"/>
<path d="M2760.8,1144.9L2780.7,1175.4L2765.1,1181.1Z" fill="#000"/>
</g>
</svg>
</body></html>
